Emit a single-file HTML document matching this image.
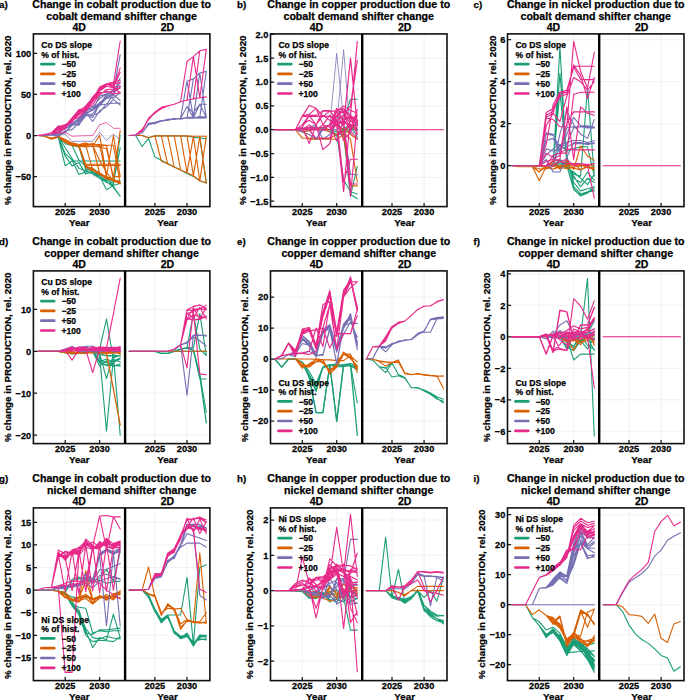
<!DOCTYPE html>
<html><head><meta charset="utf-8"><style>
html,body{margin:0;padding:0;background:#fff;}
svg{display:block;}
text{font-family:"Liberation Sans", sans-serif;font-weight:bold;fill:#000;stroke:#000;stroke-width:0.25px;}
</style></head><body>
<svg width="685" height="700" viewBox="0 0 685 700">
<rect width="685" height="700" fill="#fff"/>
<path d="M33.40 53.30H209.90 M33.40 94.40H209.90 M33.40 135.50H209.90 M33.40 176.60H209.90 M65.20 33.90V206.60 M154.90 33.90V206.60 M99.60 33.90V206.60 M187.00 33.90V206.60" stroke="#ededed" stroke-width="0.8" fill="none"/>
<path d="M37.7 135.5L44.6 136.3L51.4 138.8L58.3 137.1L65.2 165.9L72.1 161.0L79.0 161.0L85.8 161.0L92.7 161.0L99.6 161.0L106.5 161.0L113.4 161.0L120.2 161.0M37.7 135.5L44.6 136.3L51.4 138.8L58.3 137.1L65.2 153.6L72.1 160.2L79.0 174.5L85.8 171.7L92.7 172.5L99.6 176.2L106.5 189.8L113.4 185.6L120.2 183.2M37.7 135.5L44.6 136.3L51.4 138.8L58.3 137.1L65.2 156.1L72.1 165.9L79.0 162.6L85.8 174.1L92.7 171.7L99.6 175.0L106.5 178.2L113.4 186.5L120.2 196.3M37.7 135.5L44.6 136.3L51.4 138.8L58.3 137.1L65.2 147.8L72.1 158.5L79.0 168.4L85.8 170.8L92.7 174.1L99.6 176.6L106.5 181.5L113.4 187.3L120.2 196.3M37.7 135.5L44.6 136.3L51.4 138.8L58.3 137.1L65.2 143.7L72.1 145.4L79.0 147.0L85.8 170.0L92.7 174.1L99.6 178.2L106.5 182.4L113.4 184.8L120.2 135.5M37.7 135.5L44.6 136.3L51.4 138.8L58.3 137.1L65.2 143.7L72.1 145.4L79.0 146.2L85.8 168.4L92.7 171.7L99.6 176.6L106.5 179.9L113.4 183.2L120.2 147.8M37.7 135.5L44.6 136.3L51.4 138.8L58.3 137.1L65.2 143.7L72.1 145.4L79.0 160.2L85.8 166.7L92.7 168.4L99.6 173.3L106.5 178.2L113.4 181.5L120.2 180.7" stroke="#1b9e77" stroke-width="1.1" fill="none" stroke-linejoin="round" stroke-linecap="round"/>
<path d="M37.7 135.5L44.6 136.3L51.4 139.3L58.3 137.1L65.2 142.0L72.1 144.4L79.0 146.7L85.8 167.3L92.7 170.8L99.6 172.6L106.5 177.1L113.4 181.1L120.2 183.0M37.7 135.5L44.6 136.3L51.4 139.3L58.3 137.1L65.2 141.4L72.1 144.5L79.0 146.1L85.8 166.1L92.7 170.7L99.6 172.8L106.5 177.7L113.4 179.9L120.2 182.5M37.7 135.5L44.6 136.3L51.4 139.3L58.3 137.1L65.2 140.9L72.1 145.0L79.0 144.9L85.8 145.3L92.7 170.2L99.6 174.5L106.5 177.7L113.4 180.0L120.2 183.9M37.7 135.5L44.6 136.3L51.4 139.3L58.3 137.1L65.2 142.0L72.1 143.4L79.0 145.7L85.8 144.6L92.7 145.1L99.6 173.5L106.5 176.5L113.4 179.3L120.2 182.2M37.7 135.5L44.6 136.3L51.4 139.3L58.3 137.1L65.2 142.3L72.1 145.8L79.0 146.1L85.8 144.4L92.7 145.3L99.6 144.8L106.5 176.8L113.4 180.3L120.2 184.0M37.7 135.5L44.6 136.3L51.4 139.3L58.3 137.1L65.2 141.1L72.1 145.3L79.0 146.0L85.8 145.9L92.7 144.3L99.6 144.5L106.5 145.3L113.4 179.6L120.2 183.6M37.7 135.5L44.6 136.3L51.4 139.3L58.3 137.1L65.2 140.5L72.1 145.1L79.0 146.4L85.8 145.5L92.7 143.4L99.6 146.2L106.5 145.2L113.4 145.3L120.2 183.8M37.7 135.5L44.6 136.3L51.4 139.3L58.3 137.1L65.2 141.3L72.1 144.5L79.0 147.0L85.8 166.7L92.7 170.0L99.6 173.3L106.5 177.4L113.4 180.3L120.2 183.2M37.7 135.5L44.6 136.3L51.4 139.3L58.3 137.1L65.2 141.3L72.1 144.5L79.0 145.5L85.8 166.4L92.7 168.6L99.6 173.6L106.5 179.0L113.4 179.9L120.2 183.7M37.7 135.5L44.6 136.3L51.4 139.3L58.3 137.1L65.2 142.1L72.1 145.4L79.0 146.2L85.8 147.0L92.7 146.2L99.6 135.2L106.5 175.8L113.4 135.5L120.2 176.6M37.7 135.5L44.6 136.3L51.4 139.3L58.3 137.1L65.2 142.1L72.1 145.4L79.0 145.4L85.8 164.3L92.7 164.3L99.6 164.3L106.5 164.3L113.4 164.3L120.2 164.3M37.7 135.5L44.6 136.3L51.4 139.3L58.3 137.1L65.2 142.1L72.1 145.4L79.0 145.4L85.8 165.5L92.7 165.5L99.6 165.5L106.5 165.5L113.4 165.5L120.2 165.5M37.7 135.5L44.6 136.3L51.4 139.3L58.3 137.1L65.2 142.1L72.1 145.4L79.0 146.2L85.8 147.0L92.7 146.2L99.6 147.0L106.5 148.7L113.4 178.2L120.2 130.6M37.7 135.5L44.6 136.3L51.4 139.3L58.3 137.1L65.2 142.1L72.1 145.4L79.0 146.2L85.8 147.0L92.7 146.2L99.6 147.0L106.5 148.7L113.4 176.6L120.2 176.6M37.7 135.5L44.6 136.3L51.4 138.0L58.3 136.3L65.2 139.6L72.1 142.9L79.0 144.5L85.8 142.9L92.7 145.4L99.6 160.2L106.5 172.5L113.4 180.7L120.2 182.4" stroke="#d95f02" stroke-width="1.1" fill="none" stroke-linejoin="round" stroke-linecap="round"/>
<path d="M37.7 135.5L44.6 135.5L51.4 135.5L58.3 134.7L65.2 134.2L72.1 141.3L79.0 141.3L85.8 141.3L92.7 141.3L99.6 132.3L106.5 140.4L113.4 134.2L120.2 139.6" stroke="#7570b3" stroke-width="0.75" fill="none" stroke-linejoin="round" stroke-linecap="round"/>
<path d="M37.7 135.5L44.6 135.5L51.4 134.8L58.3 136.4L65.2 132.3L72.1 124.7L79.0 125.2L85.8 113.7L92.7 115.8L99.6 112.3L106.5 103.9L113.4 103.3L120.2 103.1M37.7 135.5L44.6 135.5L51.4 134.7L58.3 136.0L65.2 130.8L72.1 129.6L79.0 122.8L85.8 112.8L92.7 110.2L99.6 105.9L106.5 98.2L113.4 97.7L120.2 92.8M37.7 135.5L44.6 135.5L51.4 134.7L58.3 130.0L65.2 127.7L72.1 125.6L79.0 122.4L85.8 111.9L92.7 106.2L99.6 104.0L106.5 94.8L113.4 98.2L120.2 92.5M37.7 135.5L44.6 135.5L51.4 134.6L58.3 135.3L65.2 125.7L72.1 123.2L79.0 121.2L85.8 109.5L92.7 107.5L99.6 98.5L106.5 94.1L113.4 89.7L120.2 87.5M37.7 135.5L44.6 135.5L51.4 134.8L58.3 133.4L65.2 133.0L72.1 125.2L79.0 124.5L85.8 115.7L92.7 113.9L99.6 105.0L106.5 104.3L113.4 94.7L120.2 100.5M37.7 135.5L44.6 135.5L51.4 134.6L58.3 132.4L65.2 126.4L72.1 123.4L79.0 118.3L85.8 108.4L92.7 109.7L99.6 96.3L106.5 93.8L113.4 93.6L120.2 86.5M37.7 135.5L44.6 135.5L51.4 134.7L58.3 132.2L65.2 128.9L72.1 124.0L79.0 119.1L85.8 112.5L92.7 121.5L99.6 110.8L106.5 106.7L113.4 99.3L120.2 105.1M37.7 135.5L44.6 135.5L51.4 134.7L58.3 132.2L65.2 128.9L72.1 124.8L79.0 119.9L85.8 113.3L92.7 109.2L99.6 102.6L106.5 96.9L113.4 90.3L120.2 54.9M37.7 135.5L44.6 135.5L51.4 134.7L58.3 132.2L65.2 128.9L72.1 124.8L79.0 119.9L85.8 114.1L92.7 110.0L99.6 104.3L106.5 98.5L113.4 92.8L120.2 78.0M37.7 135.5L44.6 135.5L51.4 134.7L58.3 132.2L65.2 128.9L72.1 124.8L79.0 119.1L85.8 115.0L92.7 117.4L99.6 104.3L106.5 97.7L113.4 94.4L120.2 82.1" stroke="#7570b3" stroke-width="1.1" fill="none" stroke-linejoin="round" stroke-linecap="round"/>
<path d="M37.7 135.5L44.6 134.7L51.4 133.9L58.3 133.0L65.2 132.2L72.1 136.3L79.0 135.9L85.8 135.7L92.7 135.6L99.6 124.8L106.5 122.5L113.4 128.3L120.2 128.3" stroke="#e7298a" stroke-width="0.75" fill="none" stroke-linejoin="round" stroke-linecap="round"/>
<path d="M37.7 135.5L44.6 134.8L51.4 133.3L58.3 132.7L65.2 127.7L72.1 120.4L79.0 114.9L85.8 109.6L92.7 104.9L99.6 94.3L106.5 90.9L113.4 93.9L120.2 92.9M37.7 135.5L44.6 134.7L51.4 133.1L58.3 129.4L65.2 128.7L72.1 118.1L79.0 112.0L85.8 109.4L92.7 100.9L99.6 95.1L106.5 89.5L113.4 89.1L120.2 88.0M37.7 135.5L44.6 134.6L51.4 132.9L58.3 131.8L65.2 125.3L72.1 122.3L79.0 111.9L85.8 106.6L92.7 100.4L99.6 89.4L106.5 83.8L113.4 87.2L120.2 85.7M37.7 135.5L44.6 134.6L51.4 132.8L58.3 126.0L65.2 125.8L72.1 117.8L79.0 110.4L85.8 107.5L92.7 100.3L99.6 86.9L106.5 83.7L113.4 82.0L120.2 80.5M37.7 135.5L44.6 134.7L51.4 133.2L58.3 127.1L65.2 124.6L72.1 120.1L79.0 117.2L85.8 111.1L92.7 101.6L99.6 92.5L106.5 92.3L113.4 91.3L120.2 88.1M37.7 135.5L44.6 134.6L51.4 132.9L58.3 126.9L65.2 126.8L72.1 117.8L79.0 109.7L85.8 107.7L92.7 96.8L99.6 90.0L106.5 84.9L113.4 83.7L120.2 82.8M37.7 135.5L44.6 134.7L51.4 133.0L58.3 128.1L65.2 126.5L72.1 119.1L79.0 112.5L85.8 106.7L92.7 99.3L99.6 89.5L106.5 84.5L113.4 84.5L120.2 41.0M37.7 135.5L44.6 134.7L51.4 133.0L58.3 128.1L65.2 126.5L72.1 119.1L79.0 112.5L85.8 105.9L92.7 98.5L99.6 89.5L106.5 83.7L113.4 86.2L120.2 68.1M37.7 135.5L44.6 134.7L51.4 133.0L58.3 128.9L65.2 127.3L72.1 120.7L79.0 114.1L85.8 108.4L92.7 101.0L99.6 91.1L106.5 86.2L113.4 87.8L120.2 72.2M37.7 135.5L44.6 134.7L51.4 133.0L58.3 128.9L65.2 127.3L72.1 120.7L79.0 114.1L85.8 108.4L92.7 101.0L99.6 91.1L106.5 86.2L113.4 87.8L120.2 92.8M37.7 135.5L44.6 134.7L51.4 133.0L58.3 127.3L65.2 125.6L72.1 118.2L79.0 111.7L85.8 105.9L92.7 97.7L99.6 88.6L106.5 83.7L113.4 83.7L120.2 82.9" stroke="#e7298a" stroke-width="1.1" fill="none" stroke-linejoin="round" stroke-linecap="round"/>
<path d="M129.2 135.5L135.6 135.5L142.1 146.5L148.5 138.3L154.9 156.9L161.3 160.2L167.7 163.4L174.2 167.0L180.6 169.9L187.0 173.6L193.4 176.4L199.8 180.8L206.3 183.0M129.2 135.5L135.6 135.5L142.1 135.5L148.5 137.8L154.9 135.9L161.3 135.9L167.7 135.9L174.2 135.9L180.6 135.9L187.0 136.3L193.4 137.1L199.8 138.0L206.3 138.8M129.2 135.5L135.6 135.5L142.1 135.5L148.5 137.8L154.9 135.9L161.3 135.9L167.7 135.9L174.2 135.9L180.6 135.9L187.0 136.3L193.4 137.1L199.8 138.0L206.3 183.0" stroke="#1b9e77" stroke-width="1.1" fill="none" stroke-linejoin="round" stroke-linecap="round"/>
<path d="M129.2 135.5L135.6 135.5L142.1 135.5L148.5 137.8L154.9 135.9L161.3 135.9L167.7 135.9L174.2 135.9L180.6 135.9L187.0 135.9L193.4 136.3L199.8 136.3L206.3 136.3M129.2 135.5L135.6 135.5L142.1 135.5L148.5 137.8L154.9 135.9L161.3 161.0L167.7 164.1L174.2 167.0L180.6 169.9L187.0 172.8L193.4 175.7L199.8 180.8L206.3 183.0M129.2 135.5L135.6 135.5L142.1 135.5L148.5 137.8L154.9 135.9L161.3 135.9L167.7 164.1L174.2 167.0L180.6 169.9L187.0 172.8L193.4 175.7L199.8 180.8L206.3 183.0M129.2 135.5L135.6 135.5L142.1 135.5L148.5 137.8L154.9 135.9L161.3 135.9L167.7 135.9L174.2 167.0L180.6 169.9L187.0 172.8L193.4 175.7L199.8 180.8L206.3 183.0M129.2 135.5L135.6 135.5L142.1 135.5L148.5 137.8L154.9 135.9L161.3 135.9L167.7 135.9L174.2 135.9L180.6 169.9L187.0 172.8L193.4 175.7L199.8 180.8L206.3 183.0M129.2 135.5L135.6 135.5L142.1 135.5L148.5 137.8L154.9 135.9L161.3 135.9L167.7 135.9L174.2 135.9L180.6 135.9L187.0 172.8L193.4 175.7L199.8 180.8L206.3 183.0M129.2 135.5L135.6 135.5L142.1 135.5L148.5 137.8L154.9 135.9L161.3 135.9L167.7 135.9L174.2 135.9L180.6 135.9L187.0 135.9L193.4 175.7L199.8 180.8L206.3 183.0M129.2 135.5L135.6 135.5L142.1 135.5L148.5 137.8L154.9 135.9L161.3 135.9L167.7 135.9L174.2 135.9L180.6 135.9L187.0 135.9L193.4 136.3L199.8 180.8L206.3 183.0M129.2 135.5L135.6 135.5L142.1 135.5L148.5 137.8L154.9 135.9L161.3 135.9L167.7 135.9L174.2 135.9L180.6 135.9L187.0 135.9L193.4 136.3L199.8 136.3L206.3 183.0M129.2 135.5L135.6 135.5L142.1 135.5L148.5 137.8L154.9 135.9L161.3 135.9L167.7 135.9L174.2 135.9L180.6 135.9L187.0 172.8L193.4 136.3L199.8 180.8L206.3 136.3M129.2 135.5L135.6 135.5L142.1 135.5L148.5 137.8L154.9 135.9L161.3 135.9L167.7 135.9L174.2 135.9L180.6 135.9L187.0 135.9L193.4 175.7L199.8 136.3L206.3 183.0" stroke="#d95f02" stroke-width="1.1" fill="none" stroke-linejoin="round" stroke-linecap="round"/>
<path d="M129.2 135.5L135.6 135.5L142.1 133.0L148.5 123.4L154.9 122.3L161.3 120.5L167.7 120.4L174.2 118.6L180.6 118.5L187.0 117.6L193.4 118.1L199.8 117.3L206.3 116.5M129.2 135.5L135.6 135.5L142.1 133.0L148.5 123.7L154.9 122.9L161.3 121.2L167.7 119.3L174.2 119.4L180.6 118.5L187.0 117.8L193.4 118.1L199.8 116.5L206.3 117.2M129.2 135.5L135.6 135.5L142.1 133.0L148.5 124.0L154.9 123.8L161.3 121.0L167.7 119.3L174.2 118.7L180.6 118.9L187.0 117.5L193.4 117.1L199.8 118.3L206.3 116.8M129.2 135.5L135.6 135.5L142.1 133.0L148.5 124.6L154.9 123.5L161.3 121.3L167.7 120.3L174.2 118.3L180.6 119.2L187.0 117.7L193.4 117.4L199.8 118.3L206.3 118.0M129.2 135.5L135.6 135.5L142.1 133.0L148.5 124.0L154.9 123.2L161.3 120.7L167.7 119.9L174.2 119.1L180.6 118.2L187.0 81.2L193.4 78.8L199.8 73.0L206.3 71.4M129.2 135.5L135.6 135.5L142.1 133.0L148.5 124.0L154.9 123.2L161.3 120.7L167.7 119.9L174.2 119.1L180.6 118.2L187.0 118.2L193.4 78.8L199.8 73.0L206.3 71.4M129.2 135.5L135.6 135.5L142.1 133.0L148.5 124.0L154.9 123.2L161.3 120.7L167.7 119.9L174.2 119.1L180.6 118.2L187.0 118.2L193.4 117.8L199.8 73.0L206.3 71.4M129.2 135.5L135.6 135.5L142.1 133.0L148.5 124.0L154.9 123.2L161.3 120.7L167.7 119.9L174.2 119.1L180.6 118.2L187.0 118.2L193.4 117.8L199.8 117.4L206.3 71.4M129.2 135.5L135.6 135.5L142.1 133.0L148.5 124.0L154.9 123.2L161.3 120.7L167.7 119.9L174.2 119.1L180.6 118.2L187.0 106.7L193.4 112.5L199.8 104.3L206.3 104.3M129.2 135.5L135.6 135.5L142.1 133.0L148.5 124.0L154.9 123.2L161.3 120.7L167.7 119.9L174.2 119.1L180.6 118.2L187.0 118.2L193.4 117.8L199.8 104.3L206.3 104.3M129.2 135.5L135.6 135.5L142.1 133.0L148.5 124.0L154.9 123.2L161.3 120.7L167.7 119.9L174.2 119.1L180.6 118.2L187.0 81.2L193.4 117.4L199.8 73.0L206.3 117.4M129.2 135.5L135.6 135.5L142.1 133.0L148.5 124.0L154.9 123.2L161.3 120.7L167.7 119.9L174.2 119.1L180.6 118.2L187.0 106.7L193.4 117.4L199.8 104.3L206.3 117.4" stroke="#7570b3" stroke-width="1.1" fill="none" stroke-linejoin="round" stroke-linecap="round"/>
<path d="M129.2 135.5L135.6 134.7L142.1 131.2L148.5 119.0L154.9 112.3L161.3 108.2L167.7 105.9L174.2 104.3L180.6 101.8L187.0 100.2L193.4 98.9L199.8 97.7L206.3 96.9M129.2 135.5L135.6 134.7L142.1 130.6L148.5 118.5L154.9 112.2L161.3 107.4L167.7 105.9L174.2 104.3L180.6 101.8L187.0 100.2L193.4 98.9L199.8 97.7L206.3 96.9M129.2 135.5L135.6 134.7L142.1 129.5L148.5 119.6L154.9 112.8L161.3 108.7L167.7 105.9L174.2 104.3L180.6 101.8L187.0 100.2L193.4 98.9L199.8 97.7L206.3 96.9M129.2 135.5L135.6 134.7L142.1 130.6L148.5 118.2L154.9 113.3L161.3 108.4L167.7 105.9L174.2 104.3L180.6 101.8L187.0 61.5L193.4 56.6L199.8 50.8L206.3 49.4M129.2 135.5L135.6 134.7L142.1 130.6L148.5 118.2L154.9 113.3L161.3 108.4L167.7 105.9L174.2 104.3L180.6 101.8L187.0 100.2L193.4 56.6L199.8 50.8L206.3 49.4M129.2 135.5L135.6 134.7L142.1 130.6L148.5 118.2L154.9 113.3L161.3 108.4L167.7 105.9L174.2 104.3L180.6 101.8L187.0 100.2L193.4 98.9L199.8 50.8L206.3 49.4M129.2 135.5L135.6 134.7L142.1 130.6L148.5 118.2L154.9 113.3L161.3 108.4L167.7 105.9L174.2 104.3L180.6 101.8L187.0 100.2L193.4 98.9L199.8 97.7L206.3 49.4M129.2 135.5L135.6 134.7L142.1 130.6L148.5 118.2L154.9 113.3L161.3 108.4L167.7 105.9L174.2 104.3L180.6 101.8L187.0 100.2L193.4 56.6L199.8 97.7L206.3 49.4" stroke="#e7298a" stroke-width="1.1" fill="none" stroke-linejoin="round" stroke-linecap="round"/>
<path d="M33.40 53.30h3.6 M33.40 94.40h3.6 M33.40 135.50h3.6 M33.40 176.60h3.6 M65.20 206.60v-3.6 M154.90 206.60v-3.6 M99.60 206.60v-3.6 M187.00 206.60v-3.6" stroke="#1a1a1a" stroke-width="1.25" fill="none"/>
<rect x="33.40" y="33.90" width="176.50" height="172.70" fill="none" stroke="#111" stroke-width="1.6"/>
<line x1="125.10" y1="33.90" x2="125.10" y2="206.60" stroke="#000" stroke-width="2.4"/>
<text transform="translate(31.20 56.75) scale(1 1.05)" text-anchor="end" font-size="9.2">100</text>
<text transform="translate(31.20 97.85) scale(1 1.05)" text-anchor="end" font-size="9.2">50</text>
<text transform="translate(31.20 138.95) scale(1 1.05)" text-anchor="end" font-size="9.2">0</text>
<text transform="translate(31.20 180.05) scale(1 1.05)" text-anchor="end" font-size="9.2">−50</text>
<text transform="translate(65.20 215.00) scale(1 1.05)" text-anchor="middle" font-size="9.2">2025</text>
<text transform="translate(154.90 215.00) scale(1 1.05)" text-anchor="middle" font-size="9.2">2025</text>
<text transform="translate(99.60 215.00) scale(1 1.05)" text-anchor="middle" font-size="9.2">2030</text>
<text transform="translate(187.00 215.00) scale(1 1.05)" text-anchor="middle" font-size="9.2">2030</text>
<text transform="translate(79.25 226.10)" text-anchor="middle" font-size="9.8">Year</text>
<text transform="translate(167.50 226.10)" text-anchor="middle" font-size="9.8">Year</text>
<text transform="translate(11.19 120.25) rotate(-90)" text-anchor="middle" font-size="9.75">% change in PRODUCTION, rel. 2020</text>
<text x="79.25" y="30.90" text-anchor="middle" font-size="10.5">4D</text>
<text x="167.50" y="30.90" text-anchor="middle" font-size="10.5">2D</text>
<text x="121.65" y="7.60" text-anchor="middle" font-size="10.64">Change in cobalt production due to</text>
<text x="121.65" y="19.60" text-anchor="middle" font-size="10.64">cobalt demand shifter change</text>
<text x="-1.00" y="7.60" font-size="9.8">a)</text>
<text x="41.30" y="48.40" font-size="8.6">Co DS slope</text>
<text x="41.30" y="57.50" font-size="8.6">% of hist.</text>
<line x1="41.30" y1="64.10" x2="54.20" y2="64.10" stroke="#1b9e77" stroke-width="2.7" stroke-linecap="round"/>
<text x="61.40" y="67.20" font-size="8.6">−50</text>
<line x1="41.30" y1="73.90" x2="54.20" y2="73.90" stroke="#d95f02" stroke-width="2.7" stroke-linecap="round"/>
<text x="61.40" y="77.00" font-size="8.6">−25</text>
<line x1="41.30" y1="83.70" x2="54.20" y2="83.70" stroke="#7570b3" stroke-width="2.7" stroke-linecap="round"/>
<text x="61.40" y="86.80" font-size="8.6">+50</text>
<line x1="41.30" y1="93.50" x2="54.20" y2="93.50" stroke="#e7298a" stroke-width="2.7" stroke-linecap="round"/>
<text x="61.40" y="96.60" font-size="8.6">+100</text>
<path d="M270.50 34.38H447.00 M270.50 58.21H447.00 M270.50 82.04H447.00 M270.50 105.87H447.00 M270.50 129.70H447.00 M270.50 153.53H447.00 M270.50 177.36H447.00 M270.50 201.19H447.00 M302.30 33.90V206.60 M392.00 33.90V206.60 M336.70 33.90V206.60 M424.10 33.90V206.60" stroke="#ededed" stroke-width="0.8" fill="none"/>
<path d="M274.8 129.7L281.7 129.7L288.5 129.7L295.4 129.7L302.3 128.3L309.2 127.8L316.1 128.3L322.9 128.7L329.8 129.7L336.7 121.3L343.6 132.7L350.5 130.9L357.3 121.0M274.8 129.7L281.7 129.7L288.5 129.7L295.4 129.7L302.3 128.3L309.2 127.8L316.1 128.3L322.9 128.7L329.8 129.7L336.7 135.6L343.6 128.4L350.5 125.2L357.3 137.2M274.8 129.7L281.7 129.7L288.5 129.7L295.4 129.7L302.3 128.3L309.2 127.8L316.1 128.3L322.9 128.7L329.8 129.7L336.7 131.6L343.6 132.9L350.5 125.2L357.3 130.4M274.8 129.7L281.7 129.7L288.5 129.7L295.4 129.7L302.3 128.3L309.2 127.8L316.1 128.3L322.9 128.7L329.8 129.7L336.7 136.1L343.6 128.4L350.5 130.7L357.3 128.2M274.8 129.7L281.7 129.7L288.5 129.7L295.4 129.7L302.3 129.7L309.2 127.3L316.1 127.3L322.9 129.7L329.8 129.7L336.7 134.5L343.6 129.7L350.5 194.5L357.3 198.8M274.8 129.7L281.7 129.7L288.5 129.7L295.4 129.7L302.3 129.7L309.2 127.3L316.1 127.3L322.9 129.7L329.8 129.7L336.7 134.5L343.6 134.5L350.5 195.9L357.3 166.4M274.8 129.7L281.7 129.7L288.5 129.7L295.4 129.7L302.3 129.7L309.2 127.3L316.1 127.3L322.9 129.7L329.8 129.7L336.7 134.5L343.6 179.7L350.5 191.7L357.3 194.0M274.8 129.7L281.7 129.7L288.5 129.7L295.4 129.7L302.3 129.7L309.2 127.3L316.1 127.3L322.9 129.7L329.8 129.7L336.7 124.9L343.6 120.2L350.5 99.2L357.3 99.2" stroke="#1b9e77" stroke-width="1.1" fill="none" stroke-linejoin="round" stroke-linecap="round"/>
<path d="M274.8 129.7L281.7 129.7L288.5 129.7L295.4 129.7L302.3 138.3L309.2 138.3L316.1 138.3L322.9 138.3L329.8 138.3L336.7 134.5L343.6 127.3L350.5 134.5L357.3 139.2M274.8 129.7L281.7 129.7L288.5 129.7L295.4 129.7L302.3 132.1L309.2 130.7L316.1 128.7L322.9 129.7L329.8 132.1L336.7 134.5L343.6 132.1L350.5 139.2L357.3 182.1M274.8 129.7L281.7 129.7L288.5 129.7L295.4 129.7L302.3 129.7L309.2 139.2L316.1 139.2L322.9 139.2L329.8 139.2L336.7 139.2L343.6 134.5L350.5 185.9L357.3 185.9M274.8 129.7L281.7 129.7L288.5 129.7L295.4 129.7L302.3 129.7L309.2 129.7L316.1 128.7L322.9 127.3L329.8 129.7L336.7 124.9L343.6 132.1L350.5 124.9L357.3 132.1" stroke="#d95f02" stroke-width="1.1" fill="none" stroke-linejoin="round" stroke-linecap="round"/>
<path d="M274.8 129.7L281.7 129.7L288.5 129.7L295.4 129.7L302.3 129.7L309.2 129.7L316.1 129.7L322.9 129.7L329.8 124.9L336.7 53.4L343.6 120.2L350.5 129.7L357.3 129.7M274.8 129.7L281.7 129.7L288.5 129.7L295.4 129.7L302.3 129.7L309.2 129.7L316.1 129.7L322.9 129.7L329.8 129.7L336.7 124.9L343.6 49.6L350.5 134.5L357.3 129.7" stroke="#7570b3" stroke-width="0.75" fill="none" stroke-linejoin="round" stroke-linecap="round"/>
<path d="M274.8 129.7L281.7 129.7L288.5 129.7L295.4 129.7L302.3 132.1L309.2 134.5L316.1 139.2L322.9 127.3L329.8 124.9L336.7 120.2L343.6 122.6L350.5 124.9L357.3 124.9M274.8 129.7L281.7 129.7L288.5 129.7L295.4 129.7L302.3 129.7L309.2 129.7L316.1 139.2L322.9 129.7L329.8 129.7L336.7 129.7L343.6 124.9L350.5 174.5L357.3 174.5M274.8 129.7L281.7 129.7L288.5 129.7L295.4 129.7L302.3 129.7L309.2 127.3L316.1 124.9L322.9 139.2L329.8 134.5L336.7 115.4L343.6 120.2L350.5 117.8L357.3 120.2" stroke="#7570b3" stroke-width="1.1" fill="none" stroke-linejoin="round" stroke-linecap="round"/>
<path d="M274.8 129.7L281.7 129.7L288.5 129.7L295.4 129.7L302.3 116.4L309.2 105.4L316.1 108.3L322.9 124.9L329.8 127.3L336.7 115.4L343.6 108.3L350.5 115.4L357.3 124.9M274.8 129.7L281.7 129.7L288.5 129.7L295.4 129.7L302.3 116.4L309.2 116.4L316.1 116.4L322.9 116.4L329.8 116.4L336.7 116.4L343.6 110.6L350.5 115.4L357.3 120.2M274.8 129.7L281.7 129.7L288.5 129.7L295.4 129.7L302.3 115.9L309.2 114.4L316.1 108.3L322.9 116.4L329.8 111.1L336.7 111.1L343.6 108.3L350.5 120.2L357.3 115.4M274.8 129.7L281.7 129.7L288.5 129.7L295.4 129.7L302.3 127.3L309.2 115.4L316.1 124.9L322.9 111.1L329.8 111.1L336.7 111.1L343.6 105.9L350.5 110.6L357.3 113.0M274.8 129.7L281.7 129.7L288.5 129.7L295.4 129.7L302.3 127.3L309.2 143.5L316.1 124.9L322.9 149.7L329.8 143.5L336.7 115.4L343.6 124.9L350.5 115.4L357.3 134.5M274.8 129.7L281.7 129.7L288.5 129.7L295.4 129.7L302.3 128.7L309.2 129.7L316.1 138.3L322.9 138.3L329.8 138.3L336.7 120.2L343.6 134.5L350.5 120.2L357.3 129.7M274.8 129.7L281.7 129.7L288.5 129.7L295.4 129.7L302.3 124.9L309.2 115.4L316.1 115.4L322.9 110.6L329.8 110.6L336.7 120.2L343.6 182.1L350.5 159.2L357.3 159.2M274.8 129.7L281.7 129.7L288.5 129.7L295.4 129.7L302.3 124.9L309.2 120.2L316.1 124.9L322.9 115.4L329.8 120.2L336.7 124.9L343.6 120.2L350.5 184.0L357.3 184.0M274.8 129.7L281.7 129.7L288.5 129.7L295.4 129.7L302.3 129.7L309.2 124.9L316.1 129.7L322.9 124.9L329.8 115.4L336.7 124.9L343.6 191.7L350.5 115.4L357.3 124.9M274.8 129.7L281.7 129.7L288.5 129.7L295.4 129.7L302.3 129.7L309.2 127.3L316.1 129.7L322.9 129.7L329.8 124.9L336.7 108.3L343.6 120.2L350.5 196.4L357.3 120.2M274.8 129.7L281.7 129.7L288.5 129.7L295.4 129.7L302.3 129.7L309.2 128.7L316.1 128.7L322.9 127.3L329.8 124.9L336.7 141.1L343.6 120.2L350.5 129.0L357.3 109.5M274.8 129.7L281.7 129.7L288.5 129.7L295.4 129.7L302.3 129.7L309.2 128.7L316.1 128.7L322.9 127.3L329.8 124.9L336.7 110.7L343.6 112.6L350.5 131.3L357.3 138.8M274.8 129.7L281.7 129.7L288.5 129.7L295.4 129.7L302.3 129.7L309.2 128.7L316.1 128.7L322.9 127.3L329.8 124.9L336.7 120.4L343.6 140.7L350.5 131.8L357.3 115.6M274.8 129.7L281.7 129.7L288.5 129.7L295.4 129.7L302.3 129.7L309.2 128.7L316.1 128.7L322.9 127.3L329.8 124.9L336.7 112.0L343.6 121.1L350.5 126.9L357.3 115.8M274.8 129.7L281.7 129.7L288.5 129.7L295.4 129.7L302.3 129.7L309.2 128.7L316.1 128.7L322.9 127.3L329.8 124.9L336.7 115.4L343.6 111.3L350.5 124.5L357.3 125.9" stroke="#e7298a" stroke-width="1.1" fill="none" stroke-linejoin="round" stroke-linecap="round"/>
<path d="M274.8 129.7L281.7 129.7L288.5 129.7L295.4 129.7L302.3 129.7L309.2 129.7L316.1 129.7L322.9 129.7L329.8 129.7L336.7 120.2L343.6 124.9L350.5 58.2L357.3 124.9M274.8 129.7L281.7 129.7L288.5 129.7L295.4 129.7L302.3 129.7L309.2 129.7L316.1 129.7L322.9 129.7L329.8 129.7L336.7 124.9L343.6 120.2L350.5 115.4L357.3 41.5M274.8 129.7L281.7 129.7L288.5 129.7L295.4 129.7L302.3 129.7L309.2 129.7L316.1 129.7L322.9 129.7L329.8 129.7L336.7 120.2L343.6 115.4L350.5 105.9L357.3 60.6" stroke="#e7298a" stroke-width="1.2" fill="none" stroke-linejoin="round" stroke-linecap="round"/>
<path d="M366.3 129.7L372.7 129.7L379.2 129.7L385.6 129.7L392.0 129.7L398.4 129.7L404.8 129.7L411.3 129.7L417.7 129.7L424.1 129.7L430.5 129.7L436.9 129.7L443.4 129.7" stroke="#e7298a" stroke-width="1.1" fill="none" stroke-linejoin="round" stroke-linecap="round"/>
<path d="M270.50 34.38h3.6 M270.50 58.21h3.6 M270.50 82.04h3.6 M270.50 105.87h3.6 M270.50 129.70h3.6 M270.50 153.53h3.6 M270.50 177.36h3.6 M270.50 201.19h3.6 M302.30 206.60v-3.6 M392.00 206.60v-3.6 M336.70 206.60v-3.6 M424.10 206.60v-3.6" stroke="#1a1a1a" stroke-width="1.25" fill="none"/>
<rect x="270.50" y="33.90" width="176.50" height="172.70" fill="none" stroke="#111" stroke-width="1.6"/>
<line x1="362.20" y1="33.90" x2="362.20" y2="206.60" stroke="#000" stroke-width="2.4"/>
<text transform="translate(268.30 37.83) scale(1 1.05)" text-anchor="end" font-size="9.2">2.0</text>
<text transform="translate(268.30 61.66) scale(1 1.05)" text-anchor="end" font-size="9.2">1.5</text>
<text transform="translate(268.30 85.49) scale(1 1.05)" text-anchor="end" font-size="9.2">1.0</text>
<text transform="translate(268.30 109.32) scale(1 1.05)" text-anchor="end" font-size="9.2">0.5</text>
<text transform="translate(268.30 133.15) scale(1 1.05)" text-anchor="end" font-size="9.2">0.0</text>
<text transform="translate(268.30 156.98) scale(1 1.05)" text-anchor="end" font-size="9.2">−0.5</text>
<text transform="translate(268.30 180.81) scale(1 1.05)" text-anchor="end" font-size="9.2">−1.0</text>
<text transform="translate(268.30 204.64) scale(1 1.05)" text-anchor="end" font-size="9.2">−1.5</text>
<text transform="translate(302.30 215.00) scale(1 1.05)" text-anchor="middle" font-size="9.2">2025</text>
<text transform="translate(392.00 215.00) scale(1 1.05)" text-anchor="middle" font-size="9.2">2025</text>
<text transform="translate(336.70 215.00) scale(1 1.05)" text-anchor="middle" font-size="9.2">2030</text>
<text transform="translate(424.10 215.00) scale(1 1.05)" text-anchor="middle" font-size="9.2">2030</text>
<text transform="translate(316.35 226.10)" text-anchor="middle" font-size="9.8">Year</text>
<text transform="translate(404.60 226.10)" text-anchor="middle" font-size="9.8">Year</text>
<text transform="translate(245.74 120.25) rotate(-90)" text-anchor="middle" font-size="9.75">% change in PRODUCTION, rel. 2020</text>
<text x="316.35" y="30.90" text-anchor="middle" font-size="10.5">4D</text>
<text x="404.60" y="30.90" text-anchor="middle" font-size="10.5">2D</text>
<text x="358.75" y="7.60" text-anchor="middle" font-size="10.64">Change in copper production due to</text>
<text x="358.75" y="19.60" text-anchor="middle" font-size="10.64">cobalt demand shifter change</text>
<text x="237.00" y="7.60" font-size="9.8">b)</text>
<text x="278.40" y="48.40" font-size="8.6">Co DS slope</text>
<text x="278.40" y="57.50" font-size="8.6">% of hist.</text>
<line x1="278.40" y1="64.10" x2="291.30" y2="64.10" stroke="#1b9e77" stroke-width="2.7" stroke-linecap="round"/>
<text x="298.50" y="67.20" font-size="8.6">−50</text>
<line x1="278.40" y1="73.90" x2="291.30" y2="73.90" stroke="#d95f02" stroke-width="2.7" stroke-linecap="round"/>
<text x="298.50" y="77.00" font-size="8.6">−25</text>
<line x1="278.40" y1="83.70" x2="291.30" y2="83.70" stroke="#7570b3" stroke-width="2.7" stroke-linecap="round"/>
<text x="298.50" y="86.80" font-size="8.6">+50</text>
<line x1="278.40" y1="93.50" x2="291.30" y2="93.50" stroke="#e7298a" stroke-width="2.7" stroke-linecap="round"/>
<text x="298.50" y="96.60" font-size="8.6">+100</text>
<path d="M507.50 39.70H684.00 M507.50 81.70H684.00 M507.50 123.70H684.00 M507.50 165.70H684.00 M539.30 33.90V206.60 M629.00 33.90V206.60 M573.70 33.90V206.60 M661.10 33.90V206.60" stroke="#ededed" stroke-width="0.8" fill="none"/>
<path d="M511.8 165.7L518.7 165.7L525.5 165.7L532.4 165.7L539.3 165.7L546.2 165.7L553.1 165.7L559.9 47.0L566.8 165.7L573.7 188.8L580.6 196.1L587.5 193.0L594.3 188.8M511.8 165.7L518.7 165.7L525.5 165.7L532.4 165.7L539.3 165.7L546.2 165.7L553.1 165.7L559.9 73.3L566.8 155.2L573.7 186.7L580.6 194.0L587.5 191.9L594.3 190.9M511.8 165.7L518.7 165.7L525.5 165.7L532.4 165.7L539.3 165.7L546.2 165.7L553.1 163.6L559.9 92.2L566.8 161.5L573.7 182.5L580.6 190.9L587.5 188.8L594.3 186.7M511.8 165.7L518.7 165.7L525.5 165.7L532.4 165.7L539.3 165.7L546.2 165.7L553.1 165.7L559.9 159.4L566.8 165.7L573.7 189.6L580.6 195.5L587.5 192.4L594.3 186.5M511.8 165.7L518.7 165.7L525.5 165.7L532.4 165.7L539.3 165.7L546.2 165.7L553.1 165.7L559.9 161.5L566.8 163.6L573.7 178.3L580.6 182.5L587.5 172.0L594.3 180.4M511.8 165.7L518.7 165.7L525.5 165.7L532.4 165.7L539.3 165.7L546.2 165.7L553.1 165.7L559.9 163.6L566.8 165.7L573.7 174.1L580.6 176.2L587.5 88.0L594.3 176.2M511.8 165.7L518.7 165.7L525.5 165.7L532.4 165.7L539.3 165.7L546.2 165.7L553.1 164.6L559.9 165.7L566.8 167.8L573.7 172.0L580.6 178.3L587.5 184.6L594.3 174.1M511.8 165.7L518.7 165.7L525.5 165.7L532.4 165.7L539.3 165.7L546.2 165.7L553.1 165.7L559.9 161.5L566.8 165.7L573.7 176.2L580.6 186.7L587.5 178.3L594.3 182.5M511.8 165.7L518.7 165.7L525.5 165.7L532.4 165.7L539.3 165.7L546.2 165.7L553.1 165.7L559.9 144.7L566.8 151.0L573.7 148.9L580.6 146.8L587.5 146.8L594.3 176.2" stroke="#1b9e77" stroke-width="1.1" fill="none" stroke-linejoin="round" stroke-linecap="round"/>
<path d="M511.8 165.7L518.7 166.8L525.5 166.8L532.4 166.8L539.3 180.8L546.2 166.8L553.1 160.4L559.9 169.3L566.8 160.4L573.7 169.3L580.6 146.0L587.5 156.0L594.3 160.4M511.8 165.7L518.7 166.8L525.5 166.8L532.4 166.8L539.3 172.0L546.2 165.7L553.1 163.6L559.9 167.8L566.8 164.6L573.7 163.6L580.6 169.9L587.5 166.8L594.3 167.8M511.8 165.7L518.7 166.8L525.5 166.8L532.4 166.8L539.3 169.1L546.2 168.9L553.1 166.4L559.9 165.7L566.8 166.8L573.7 168.3L580.6 169.9L587.5 165.7L594.3 169.5M511.8 165.7L518.7 166.8L525.5 166.8L532.4 166.8L539.3 166.1L546.2 167.4L553.1 169.3L559.9 167.1L566.8 168.7L573.7 167.2L580.6 164.9L587.5 167.2L594.3 169.7M511.8 165.7L518.7 166.8L525.5 166.8L532.4 166.8L539.3 166.0L546.2 165.9L553.1 169.2L559.9 165.4L566.8 165.7L573.7 165.7L580.6 166.3L587.5 165.0L594.3 165.8" stroke="#d95f02" stroke-width="1.1" fill="none" stroke-linejoin="round" stroke-linecap="round"/>
<path d="M511.8 165.7L518.7 165.7L525.5 165.7L532.4 165.7L539.3 165.7L546.2 132.9L553.1 134.2L559.9 151.0L566.8 127.9L573.7 126.8L580.6 126.8L587.5 126.8L594.3 126.8M511.8 165.7L518.7 165.7L525.5 165.7L532.4 165.7L539.3 165.7L546.2 134.2L553.1 135.2L559.9 146.8L566.8 144.7L573.7 127.9L580.6 126.8L587.5 127.9L594.3 127.9M511.8 165.7L518.7 165.7L525.5 165.7L532.4 165.7L539.3 165.7L546.2 148.9L553.1 151.0L559.9 148.9L566.8 146.8L573.7 143.6L580.6 143.6L587.5 143.6L594.3 143.6M511.8 165.7L518.7 165.7L525.5 165.7L532.4 165.7L539.3 165.7L546.2 159.4L553.1 172.0L559.9 172.0L566.8 157.3L573.7 142.6L580.6 142.6L587.5 144.7L594.3 142.6M511.8 165.7L518.7 165.7L525.5 165.7L532.4 165.7L539.3 165.7L546.2 165.7L553.1 165.7L559.9 134.2L566.8 111.1L573.7 124.8L580.6 134.2L587.5 138.4L594.3 119.5M511.8 165.7L518.7 165.7L525.5 165.7L532.4 165.7L539.3 165.7L546.2 140.5L553.1 138.4L559.9 153.1L566.8 134.2L573.7 117.4L580.6 125.8L587.5 125.8L594.3 127.9M511.8 165.7L518.7 165.7L525.5 165.7L532.4 165.7L539.3 165.7L546.2 155.2L553.1 148.9L559.9 144.7L566.8 142.6L573.7 140.5L580.6 140.5L587.5 142.6L594.3 140.5" stroke="#7570b3" stroke-width="1.1" fill="none" stroke-linejoin="round" stroke-linecap="round"/>
<path d="M511.8 165.7L518.7 165.7L525.5 165.7L532.4 165.7L539.3 165.7L546.2 112.6L553.1 108.6L559.9 94.3L566.8 92.2L573.7 66.2L580.6 66.2L587.5 66.2L594.3 66.2M511.8 165.7L518.7 165.7L525.5 165.7L532.4 165.7L539.3 165.7L546.2 118.0L553.1 119.5L559.9 126.8L566.8 126.8L573.7 41.4L580.6 71.2L587.5 88.0L594.3 52.3M511.8 165.7L518.7 165.7L525.5 165.7L532.4 165.7L539.3 165.7L546.2 144.7L553.1 104.8L559.9 92.2L566.8 90.1L573.7 67.0L580.6 79.6L587.5 79.6L594.3 79.6M511.8 165.7L518.7 165.7L525.5 165.7L532.4 165.7L539.3 165.7L546.2 165.7L553.1 155.2L559.9 153.1L566.8 153.1L573.7 94.3L580.6 92.2L587.5 92.2L594.3 92.2M511.8 165.7L518.7 165.7L525.5 165.7L532.4 165.7L539.3 165.7L546.2 165.7L553.1 155.2L559.9 153.1L566.8 148.9L573.7 149.9L580.6 149.9L587.5 149.9L594.3 149.9M511.8 165.7L518.7 165.7L525.5 165.7L532.4 165.7L539.3 165.7L546.2 161.5L553.1 159.4L559.9 155.2L566.8 123.7L573.7 111.9L580.6 111.9L587.5 111.9L594.3 111.9M511.8 165.7L518.7 165.7L525.5 165.7L532.4 165.7L539.3 165.7L546.2 125.8L553.1 113.2L559.9 121.6L566.8 96.4L573.7 77.5L580.6 81.7L587.5 90.1L594.3 81.7M511.8 165.7L518.7 165.7L525.5 165.7L532.4 165.7L539.3 165.7L546.2 165.7L553.1 165.7L559.9 161.5L566.8 159.4L573.7 165.7L580.6 163.6L587.5 165.7L594.3 198.2M511.8 165.7L518.7 165.7L525.5 165.7L532.4 165.7L539.3 165.7L546.2 115.3L553.1 111.1L559.9 96.4L566.8 94.3L573.7 64.9L580.6 75.4L587.5 98.5L594.3 77.5M511.8 165.7L518.7 165.7L525.5 165.7L532.4 165.7L539.3 165.7L546.2 165.7L553.1 161.5L559.9 159.4L566.8 106.9L573.7 159.4L580.6 106.9L587.5 113.2L594.3 115.3M511.8 165.7L518.7 165.7L525.5 165.7L532.4 165.7L539.3 165.7L546.2 153.1L553.1 157.3L559.9 161.5L566.8 163.6L573.7 163.6L580.6 163.6L587.5 164.6L594.3 163.6M511.8 165.7L518.7 165.7L525.5 165.7L532.4 165.7L539.3 165.7L546.2 117.4L553.1 113.2L559.9 92.2L566.8 92.2L573.7 67.0L580.6 79.6L587.5 79.6L594.3 79.6" stroke="#e7298a" stroke-width="1.1" fill="none" stroke-linejoin="round" stroke-linecap="round"/>
<path d="M603.3 165.7L609.7 165.7L616.2 165.7L622.6 165.7L629.0 165.7L635.4 165.7L641.8 165.7L648.3 165.7L654.7 165.7L661.1 165.7L667.5 165.7L673.9 165.7L680.4 165.7" stroke="#e7298a" stroke-width="1.1" fill="none" stroke-linejoin="round" stroke-linecap="round"/>
<path d="M507.50 39.70h3.6 M507.50 81.70h3.6 M507.50 123.70h3.6 M507.50 165.70h3.6 M539.30 206.60v-3.6 M629.00 206.60v-3.6 M573.70 206.60v-3.6 M661.10 206.60v-3.6" stroke="#1a1a1a" stroke-width="1.25" fill="none"/>
<rect x="507.50" y="33.90" width="176.50" height="172.70" fill="none" stroke="#111" stroke-width="1.6"/>
<line x1="599.20" y1="33.90" x2="599.20" y2="206.60" stroke="#000" stroke-width="2.4"/>
<text transform="translate(505.30 43.15) scale(1 1.05)" text-anchor="end" font-size="9.2">6</text>
<text transform="translate(505.30 85.15) scale(1 1.05)" text-anchor="end" font-size="9.2">4</text>
<text transform="translate(505.30 127.15) scale(1 1.05)" text-anchor="end" font-size="9.2">2</text>
<text transform="translate(505.30 169.15) scale(1 1.05)" text-anchor="end" font-size="9.2">0</text>
<text transform="translate(539.30 215.00) scale(1 1.05)" text-anchor="middle" font-size="9.2">2025</text>
<text transform="translate(629.00 215.00) scale(1 1.05)" text-anchor="middle" font-size="9.2">2025</text>
<text transform="translate(573.70 215.00) scale(1 1.05)" text-anchor="middle" font-size="9.2">2030</text>
<text transform="translate(661.10 215.00) scale(1 1.05)" text-anchor="middle" font-size="9.2">2030</text>
<text transform="translate(553.35 226.10)" text-anchor="middle" font-size="9.8">Year</text>
<text transform="translate(641.60 226.10)" text-anchor="middle" font-size="9.8">Year</text>
<text transform="translate(495.78 120.25) rotate(-90)" text-anchor="middle" font-size="9.75">% change in PRODUCTION, rel. 2020</text>
<text x="553.35" y="30.90" text-anchor="middle" font-size="10.5">4D</text>
<text x="641.60" y="30.90" text-anchor="middle" font-size="10.5">2D</text>
<text x="595.75" y="7.60" text-anchor="middle" font-size="10.64">Change in nickel production due to</text>
<text x="595.75" y="19.60" text-anchor="middle" font-size="10.64">cobalt demand shifter change</text>
<text x="473.50" y="7.60" font-size="9.8">c)</text>
<text x="515.40" y="48.40" font-size="8.6">Co DS slope</text>
<text x="515.40" y="57.50" font-size="8.6">% of hist.</text>
<line x1="515.40" y1="64.10" x2="528.30" y2="64.10" stroke="#1b9e77" stroke-width="2.7" stroke-linecap="round"/>
<text x="535.50" y="67.20" font-size="8.6">−50</text>
<line x1="515.40" y1="73.90" x2="528.30" y2="73.90" stroke="#d95f02" stroke-width="2.7" stroke-linecap="round"/>
<text x="535.50" y="77.00" font-size="8.6">−25</text>
<line x1="515.40" y1="83.70" x2="528.30" y2="83.70" stroke="#7570b3" stroke-width="2.7" stroke-linecap="round"/>
<text x="535.50" y="86.80" font-size="8.6">+50</text>
<line x1="515.40" y1="93.50" x2="528.30" y2="93.50" stroke="#e7298a" stroke-width="2.7" stroke-linecap="round"/>
<text x="535.50" y="96.60" font-size="8.6">+100</text>
<path d="M33.40 309.40H209.90 M33.40 351.30H209.90 M33.40 393.20H209.90 M33.40 435.10H209.90 M65.20 270.90V443.60 M154.90 270.90V443.60 M99.60 270.90V443.60 M187.00 270.90V443.60" stroke="#ededed" stroke-width="0.8" fill="none"/>
<path d="M37.7 351.3L44.6 351.3L51.4 351.3L58.3 351.3L65.2 352.6L72.1 353.8L79.0 353.4L85.8 352.6L92.7 351.3L99.6 365.9L106.5 360.8L113.4 366.4L120.2 363.8M37.7 351.3L44.6 351.3L51.4 351.3L58.3 351.3L65.2 352.6L72.1 353.8L79.0 353.4L85.8 352.6L92.7 351.3L99.6 359.0L106.5 362.9L113.4 360.7L120.2 358.1M37.7 351.3L44.6 351.3L51.4 351.3L58.3 351.3L65.2 352.6L72.1 353.8L79.0 353.4L85.8 352.6L92.7 351.3L99.6 361.8L106.5 365.2L113.4 362.4L120.2 358.8M37.7 351.3L44.6 351.3L51.4 351.3L58.3 351.3L65.2 352.6L72.1 353.8L79.0 353.4L85.8 352.6L92.7 351.3L99.6 361.6L106.5 359.0L113.4 362.0L120.2 358.0M37.7 351.3L44.6 351.3L51.4 351.3L58.3 351.3L65.2 352.6L72.1 353.8L79.0 353.4L85.8 352.6L92.7 351.3L99.6 349.2L106.5 319.0L113.4 359.7L120.2 361.8M37.7 351.3L44.6 351.3L51.4 351.3L58.3 351.3L65.2 352.1L72.1 353.4L79.0 353.0L85.8 352.1L92.7 351.3L99.6 355.5L106.5 430.9L113.4 357.6L120.2 355.5M37.7 351.3L44.6 351.3L51.4 351.3L58.3 351.3L65.2 352.1L72.1 353.4L79.0 353.0L85.8 352.1L92.7 351.3L99.6 354.7L106.5 355.5L113.4 355.5L120.2 435.1M37.7 351.3L44.6 351.3L51.4 351.3L58.3 351.3L65.2 352.1L72.1 353.4L79.0 353.0L85.8 352.1L92.7 351.3L99.6 353.4L106.5 378.5L113.4 354.7L120.2 356.3M37.7 351.3L44.6 351.3L51.4 351.3L58.3 351.3L65.2 352.1L72.1 353.4L79.0 353.0L85.8 352.1L92.7 351.3L99.6 352.6L106.5 355.9L113.4 355.9L120.2 355.9" stroke="#1b9e77" stroke-width="1.1" fill="none" stroke-linejoin="round" stroke-linecap="round"/>
<path d="M37.7 351.3L44.6 351.3L51.4 351.3L58.3 351.3L65.2 352.6L72.1 353.8L79.0 353.4L85.8 352.6L92.7 351.3L99.6 362.2L106.5 365.5L113.4 365.1L120.2 366.0" stroke="#1b9e77" stroke-width="1.3" fill="none" stroke-linejoin="round" stroke-linecap="round"/>
<path d="M37.7 351.3L44.6 351.3L51.4 351.3L58.3 351.3L65.2 352.5L72.1 352.9L79.0 352.3L85.8 352.7L92.7 353.2L99.6 351.7L106.5 350.7L113.4 352.5L120.2 353.1M37.7 351.3L44.6 351.3L51.4 351.3L58.3 351.3L65.2 351.8L72.1 351.7L79.0 352.1L85.8 353.8L92.7 350.6L99.6 353.8L106.5 350.6L113.4 352.0L120.2 351.8M37.7 351.3L44.6 351.3L51.4 351.3L58.3 351.3L65.2 351.1L72.1 352.6L79.0 352.3L85.8 353.2L92.7 350.8L99.6 352.1L106.5 352.9L113.4 351.1L120.2 354.2M37.7 351.3L44.6 351.3L51.4 351.3L58.3 351.3L65.2 351.6L72.1 352.5L79.0 351.7L85.8 351.7L92.7 350.9L99.6 352.9L106.5 352.3L113.4 353.3L120.2 352.7M37.7 351.3L44.6 351.3L51.4 351.3L58.3 351.3L65.2 351.6L72.1 351.6L79.0 352.4L85.8 353.7L92.7 351.5L99.6 350.7L106.5 353.5L113.4 352.9L120.2 352.0" stroke="#d95f02" stroke-width="1.1" fill="none" stroke-linejoin="round" stroke-linecap="round"/>
<path d="M37.7 351.3L44.6 351.3L51.4 351.3L58.3 351.3L65.2 352.6L72.1 353.4L79.0 353.4L85.8 352.6L92.7 351.3L99.6 352.6L106.5 353.4L113.4 389.0L120.2 425.0" stroke="#d95f02" stroke-width="1.3" fill="none" stroke-linejoin="round" stroke-linecap="round"/>
<path d="M37.7 351.3L44.6 351.3L51.4 351.3L58.3 351.3L65.2 351.2L72.1 346.8L79.0 349.5L85.8 346.4L92.7 351.4L99.6 351.1L106.5 351.0L113.4 349.0L120.2 347.1M37.7 351.3L44.6 351.3L51.4 351.3L58.3 351.3L65.2 350.1L72.1 346.4L79.0 350.6L85.8 350.3L92.7 351.1L99.6 347.6L106.5 350.0L113.4 348.1L120.2 346.9M37.7 351.3L44.6 351.3L51.4 351.3L58.3 351.3L65.2 349.0L72.1 346.5L79.0 350.1L85.8 351.5L92.7 349.7L99.6 349.9L106.5 347.8L113.4 352.0L120.2 351.2M37.7 351.3L44.6 351.3L51.4 351.3L58.3 351.3L65.2 350.9L72.1 347.1L79.0 351.5L85.8 352.0L92.7 347.7L99.6 347.7L106.5 350.3L113.4 351.3L120.2 350.3M37.7 351.3L44.6 351.3L51.4 351.3L58.3 351.3L65.2 349.9L72.1 347.8L79.0 351.6L85.8 350.4L92.7 351.6L99.6 352.3L106.5 347.2L113.4 347.5L120.2 352.1M37.7 351.3L44.6 351.3L51.4 351.3L58.3 351.3L65.2 351.1L72.1 346.4L79.0 350.7L85.8 347.5L92.7 351.8L99.6 347.1L106.5 351.2L113.4 348.8L120.2 347.5M37.7 351.3L44.6 351.3L51.4 351.3L58.3 351.3L65.2 350.5L72.1 349.2L79.0 347.9L85.8 346.3L92.7 346.3L99.6 349.6L106.5 349.2L113.4 350.0L120.2 349.6" stroke="#7570b3" stroke-width="1.1" fill="none" stroke-linejoin="round" stroke-linecap="round"/>
<path d="M37.7 351.3L44.6 351.3L51.4 351.3L58.3 351.3L65.2 349.8L72.1 346.9L79.0 351.1L85.8 349.2L92.7 348.9L99.6 349.9L106.5 351.2L113.4 350.3L120.2 350.3M37.7 351.3L44.6 351.3L51.4 351.3L58.3 351.3L65.2 351.1L72.1 349.7L79.0 347.6L85.8 349.0L92.7 349.0L99.6 347.6L106.5 350.7L113.4 349.8L120.2 350.3M37.7 351.3L44.6 351.3L51.4 351.3L58.3 351.3L65.2 350.0L72.1 348.8L79.0 349.8L85.8 349.9L92.7 350.4L99.6 347.1L106.5 348.2L113.4 348.2L120.2 347.0M37.7 351.3L44.6 351.3L51.4 351.3L58.3 351.3L65.2 351.0L72.1 349.0L79.0 349.4L85.8 350.2L92.7 346.8L99.6 350.2L106.5 348.5L113.4 350.6L120.2 351.2M37.7 351.3L44.6 351.3L51.4 351.3L58.3 351.3L65.2 350.2L72.1 349.2L79.0 346.9L85.8 347.5L92.7 351.0L99.6 347.4L106.5 347.7L113.4 349.6L120.2 347.5M37.7 351.3L44.6 351.3L51.4 351.3L58.3 351.3L65.2 350.2L72.1 347.4L79.0 351.0L85.8 350.0L92.7 347.1L99.6 349.2L106.5 348.0L113.4 347.3L120.2 347.8M37.7 351.3L44.6 351.3L51.4 351.3L58.3 351.3L65.2 349.2L72.1 351.3L79.0 349.9L85.8 349.8L92.7 347.2L99.6 347.6L106.5 349.2L113.4 350.9L120.2 347.4M37.7 351.3L44.6 351.3L51.4 351.3L58.3 351.3L65.2 350.5L72.1 350.8L79.0 350.5L85.8 347.6L92.7 350.5L99.6 350.6L106.5 347.2L113.4 350.6L120.2 349.5M37.7 351.3L44.6 351.3L51.4 351.3L58.3 351.3L65.2 350.5L72.1 348.3L79.0 348.0L85.8 349.3L92.7 347.0L99.6 350.2L106.5 349.7L113.4 349.1L120.2 350.2M37.7 351.3L44.6 351.3L51.4 351.3L58.3 351.3L65.2 351.2L72.1 349.5L79.0 347.7L85.8 347.5L92.7 349.9L99.6 346.8L106.5 347.5L113.4 350.2L120.2 348.2M37.7 351.3L44.6 351.3L51.4 351.3L58.3 351.3L65.2 350.5L72.1 360.1L79.0 349.2L85.8 350.0L92.7 372.7L99.6 349.2L106.5 347.9L113.4 349.2L120.2 348.8M37.7 351.3L44.6 351.3L51.4 351.3L58.3 351.3L65.2 350.0L72.1 347.9L79.0 349.2L85.8 349.6L92.7 349.2L99.6 348.8L106.5 347.9L113.4 313.6L120.2 278.4" stroke="#e7298a" stroke-width="1.1" fill="none" stroke-linejoin="round" stroke-linecap="round"/>
<path d="M129.2 351.3L135.6 351.3L142.1 351.3L148.5 351.3L154.9 351.3L161.3 353.4L167.7 353.4L174.2 351.3L180.6 351.3L187.0 351.3L193.4 351.3L199.8 351.3L206.3 351.3M129.2 351.3L135.6 351.3L142.1 351.3L148.5 351.3L154.9 351.3L161.3 353.4L167.7 353.4L174.2 351.3L180.6 349.2L187.0 347.9L193.4 347.9L199.8 313.6L206.3 355.5M129.2 351.3L135.6 351.3L142.1 351.3L148.5 351.3L154.9 351.3L161.3 353.4L167.7 353.4L174.2 351.3L180.6 349.2L187.0 347.9L193.4 350.0L199.8 374.3L206.3 412.1M129.2 351.3L135.6 351.3L142.1 351.3L148.5 351.3L154.9 351.3L161.3 353.4L167.7 353.4L174.2 351.3L180.6 349.2L187.0 347.9L193.4 350.0L199.8 379.0L206.3 379.0M129.2 351.3L135.6 351.3L142.1 351.3L148.5 351.3L154.9 351.3L161.3 353.4L167.7 353.4L174.2 351.3L180.6 349.2L187.0 347.9L193.4 313.6L199.8 349.2L206.3 355.5" stroke="#1b9e77" stroke-width="1.1" fill="none" stroke-linejoin="round" stroke-linecap="round"/>
<path d="M129.2 351.3L135.6 351.3L142.1 351.3L148.5 351.3L154.9 351.3L161.3 353.4L167.7 353.4L174.2 351.3L180.6 349.2L187.0 347.9L193.4 350.0L199.8 375.6L206.3 422.9" stroke="#1b9e77" stroke-width="1.3" fill="none" stroke-linejoin="round" stroke-linecap="round"/>
<path d="M129.2 351.3L135.6 351.3L142.1 351.3L148.5 351.3L154.9 351.3L161.3 351.3L167.7 351.3L174.2 351.3L180.6 351.3L187.0 351.3L193.4 351.3L199.8 351.3L206.3 351.3" stroke="#d95f02" stroke-width="1.1" fill="none" stroke-linejoin="round" stroke-linecap="round"/>
<path d="M129.2 351.3L135.6 351.3L142.1 351.3L148.5 351.3L154.9 351.3L161.3 351.3L167.7 351.3L174.2 350.0L180.6 344.6L187.0 343.3L193.4 335.0L199.8 335.0L206.3 335.8M129.2 351.3L135.6 351.3L142.1 351.3L148.5 351.3L154.9 351.3L161.3 351.3L167.7 351.3L174.2 350.0L180.6 345.0L187.0 342.1L193.4 335.8L199.8 335.4L206.3 335.4M129.2 351.3L135.6 351.3L142.1 351.3L148.5 351.3L154.9 351.3L161.3 351.3L167.7 351.3L174.2 350.0L180.6 345.0L187.0 342.9L193.4 336.6L199.8 340.8L206.3 346.1M129.2 351.3L135.6 351.3L142.1 351.3L148.5 351.3L154.9 351.3L161.3 351.3L167.7 351.3L174.2 350.0L180.6 345.0L187.0 395.3L193.4 335.4L199.8 335.0L206.3 336.2" stroke="#7570b3" stroke-width="1.1" fill="none" stroke-linejoin="round" stroke-linecap="round"/>
<path d="M129.2 351.3L135.6 351.3L142.1 351.3L148.5 351.3L154.9 351.3L161.3 351.3L167.7 351.3L174.2 349.0L180.6 344.6L187.0 309.8L193.4 310.9L199.8 309.0L206.3 305.1M129.2 351.3L135.6 351.3L142.1 351.3L148.5 351.3L154.9 351.3L161.3 351.3L167.7 351.3L174.2 349.0L180.6 344.6L187.0 317.9L193.4 320.0L199.8 319.4L206.3 316.3M129.2 351.3L135.6 351.3L142.1 351.3L148.5 351.3L154.9 351.3L161.3 351.3L167.7 351.3L174.2 349.0L180.6 344.6L187.0 309.8L193.4 306.8L199.8 304.9L206.3 309.4M129.2 351.3L135.6 351.3L142.1 351.3L148.5 351.3L154.9 351.3L161.3 351.3L167.7 351.3L174.2 349.0L180.6 344.6L187.0 318.7L193.4 320.0L199.8 318.6L206.3 316.0M129.2 351.3L135.6 351.3L142.1 351.3L148.5 351.3L154.9 351.3L161.3 351.3L167.7 351.3L174.2 349.0L180.6 344.6L187.0 310.9L193.4 306.4L199.8 305.0L206.3 308.2M129.2 351.3L135.6 351.3L142.1 351.3L148.5 351.3L154.9 351.3L161.3 351.3L167.7 351.3L174.2 349.0L180.6 344.6L187.0 319.9L193.4 314.8L199.8 316.9L206.3 317.1M129.2 351.3L135.6 351.3L142.1 351.3L148.5 351.3L154.9 351.3L161.3 351.3L167.7 351.3L174.2 349.0L180.6 344.6L187.0 313.2L193.4 318.2L199.8 307.3L206.3 319.0M129.2 351.3L135.6 351.3L142.1 351.3L148.5 351.3L154.9 351.3L161.3 351.3L167.7 351.3L174.2 349.0L180.6 344.6L187.0 319.0L193.4 308.1L199.8 318.2L206.3 308.1M129.2 351.3L135.6 351.3L142.1 351.3L148.5 351.3L154.9 351.3L161.3 351.3L167.7 351.3L174.2 349.0L180.6 344.6L187.0 367.6L193.4 309.4L199.8 308.6L206.3 309.8M129.2 351.3L135.6 351.3L142.1 351.3L148.5 351.3L154.9 351.3L161.3 351.3L167.7 351.3L174.2 349.0L180.6 344.6L187.0 313.6L193.4 311.5L199.8 373.9L206.3 374.8" stroke="#e7298a" stroke-width="1.1" fill="none" stroke-linejoin="round" stroke-linecap="round"/>
<path d="M33.40 309.40h3.6 M33.40 351.30h3.6 M33.40 393.20h3.6 M33.40 435.10h3.6 M65.20 443.60v-3.6 M154.90 443.60v-3.6 M99.60 443.60v-3.6 M187.00 443.60v-3.6" stroke="#1a1a1a" stroke-width="1.25" fill="none"/>
<rect x="33.40" y="270.90" width="176.50" height="172.70" fill="none" stroke="#111" stroke-width="1.6"/>
<line x1="125.10" y1="270.90" x2="125.10" y2="443.60" stroke="#000" stroke-width="2.4"/>
<text transform="translate(31.20 312.85) scale(1 1.05)" text-anchor="end" font-size="9.2">10</text>
<text transform="translate(31.20 354.75) scale(1 1.05)" text-anchor="end" font-size="9.2">0</text>
<text transform="translate(31.20 396.65) scale(1 1.05)" text-anchor="end" font-size="9.2">−10</text>
<text transform="translate(31.20 438.55) scale(1 1.05)" text-anchor="end" font-size="9.2">−20</text>
<text transform="translate(65.20 452.00) scale(1 1.05)" text-anchor="middle" font-size="9.2">2025</text>
<text transform="translate(154.90 452.00) scale(1 1.05)" text-anchor="middle" font-size="9.2">2025</text>
<text transform="translate(99.60 452.00) scale(1 1.05)" text-anchor="middle" font-size="9.2">2030</text>
<text transform="translate(187.00 452.00) scale(1 1.05)" text-anchor="middle" font-size="9.2">2030</text>
<text transform="translate(79.25 463.10)" text-anchor="middle" font-size="9.8">Year</text>
<text transform="translate(167.50 463.10)" text-anchor="middle" font-size="9.8">Year</text>
<text transform="translate(11.19 357.25) rotate(-90)" text-anchor="middle" font-size="9.75">% change in PRODUCTION, rel. 2020</text>
<text x="79.25" y="267.90" text-anchor="middle" font-size="10.5">4D</text>
<text x="167.50" y="267.90" text-anchor="middle" font-size="10.5">2D</text>
<text x="121.65" y="244.60" text-anchor="middle" font-size="10.64">Change in cobalt production due to</text>
<text x="121.65" y="256.60" text-anchor="middle" font-size="10.64">copper demand shifter change</text>
<text x="-1.00" y="244.60" font-size="9.8">d)</text>
<text x="41.30" y="285.40" font-size="8.6">Cu DS slope</text>
<text x="41.30" y="294.50" font-size="8.6">% of hist.</text>
<line x1="41.30" y1="301.10" x2="54.20" y2="301.10" stroke="#1b9e77" stroke-width="2.7" stroke-linecap="round"/>
<text x="61.40" y="304.20" font-size="8.6">−50</text>
<line x1="41.30" y1="310.90" x2="54.20" y2="310.90" stroke="#d95f02" stroke-width="2.7" stroke-linecap="round"/>
<text x="61.40" y="314.00" font-size="8.6">−25</text>
<line x1="41.30" y1="320.70" x2="54.20" y2="320.70" stroke="#7570b3" stroke-width="2.7" stroke-linecap="round"/>
<text x="61.40" y="323.80" font-size="8.6">+50</text>
<line x1="41.30" y1="330.50" x2="54.20" y2="330.50" stroke="#e7298a" stroke-width="2.7" stroke-linecap="round"/>
<text x="61.40" y="333.60" font-size="8.6">+100</text>
<path d="M270.50 297.00H447.00 M270.50 328.00H447.00 M270.50 359.00H447.00 M270.50 390.00H447.00 M270.50 421.00H447.00 M302.30 270.90V443.60 M392.00 270.90V443.60 M336.70 270.90V443.60 M424.10 270.90V443.60" stroke="#ededed" stroke-width="0.8" fill="none"/>
<path d="M274.8 359.0L281.7 367.1L288.5 359.0L295.4 359.0L302.3 362.4L309.2 377.0L316.1 390.0L322.9 366.8L329.8 364.6L336.7 365.5L343.6 364.6L350.5 365.2L357.3 368.3M274.8 359.0L281.7 367.1L288.5 359.0L295.4 359.0L302.3 362.4L309.2 376.1L316.1 391.6L322.9 366.8L329.8 364.6L336.7 365.2L343.6 364.6L350.5 364.6L357.3 403.0M274.8 359.0L281.7 367.1L288.5 359.0L295.4 359.0L302.3 362.4L309.2 377.6L316.1 412.6L322.9 412.6L329.8 365.2L336.7 366.8L343.6 366.4L350.5 365.8L357.3 369.9M274.8 359.0L281.7 367.1L288.5 359.0L295.4 359.0L302.3 362.4L309.2 371.4L316.1 383.8L322.9 366.8L329.8 364.6L336.7 421.3L343.6 364.6L350.5 363.6L357.3 365.2M274.8 359.0L281.7 367.1L288.5 359.0L295.4 359.0L302.3 362.4L309.2 374.5L316.1 386.9L322.9 368.3L329.8 365.2L336.7 363.6L343.6 366.8L350.5 365.2L357.3 366.8" stroke="#1b9e77" stroke-width="1.1" fill="none" stroke-linejoin="round" stroke-linecap="round"/>
<path d="M274.8 359.0L281.7 367.1L288.5 359.0L295.4 359.0L302.3 362.4L309.2 377.0L316.1 412.6L322.9 412.6L329.8 364.6L336.7 421.3L343.6 364.6L350.5 364.6L357.3 435.3" stroke="#1b9e77" stroke-width="1.3" fill="none" stroke-linejoin="round" stroke-linecap="round"/>
<path d="M274.8 359.0L281.7 359.0L288.5 359.0L295.4 359.0L302.3 366.5L309.2 367.0L316.1 361.8L322.9 361.8L329.8 371.6L336.7 365.7L343.6 353.9L350.5 358.4L357.3 366.2M274.8 359.0L281.7 359.0L288.5 359.0L295.4 359.0L302.3 366.5L309.2 365.7L316.1 358.7L322.9 360.0L329.8 371.5L336.7 366.1L343.6 352.4L350.5 357.0L357.3 366.8M274.8 359.0L281.7 359.0L288.5 359.0L295.4 359.0L302.3 363.4L309.2 367.2L316.1 358.9L322.9 362.3L329.8 370.3L336.7 364.9L343.6 352.1L350.5 357.0L357.3 367.8M274.8 359.0L281.7 359.0L288.5 359.0L295.4 359.0L302.3 365.6L309.2 365.6L316.1 361.8L322.9 359.5L329.8 374.2L336.7 367.0L343.6 354.3L350.5 357.1L357.3 369.2M274.8 359.0L281.7 359.0L288.5 359.0L295.4 359.0L302.3 368.2L309.2 363.7L316.1 359.7L322.9 363.1L329.8 370.4L336.7 364.4L343.6 354.1L350.5 358.6L357.3 367.0M274.8 359.0L281.7 359.0L288.5 359.0L295.4 359.0L302.3 359.0L309.2 359.0L316.1 359.3L322.9 359.6L329.8 359.9L336.7 360.6L343.6 354.4L350.5 354.0L357.3 372.6M274.8 359.0L281.7 359.0L288.5 359.0L295.4 359.0L302.3 359.0L309.2 359.0L316.1 359.3L322.9 359.6L329.8 359.9L336.7 360.6L343.6 360.6L350.5 355.9L357.3 362.1" stroke="#d95f02" stroke-width="1.1" fill="none" stroke-linejoin="round" stroke-linecap="round"/>
<path d="M274.8 359.0L281.7 358.4L288.5 354.7L295.4 353.4L302.3 338.4L309.2 345.8L316.1 357.3L322.9 330.9L329.8 326.3L336.7 351.1L343.6 326.3L350.5 318.5L357.3 341.6M274.8 359.0L281.7 358.4L288.5 354.7L295.4 351.3L302.3 338.8L309.2 344.3L316.1 355.0L322.9 334.1L329.8 325.6L336.7 348.2L343.6 325.6L350.5 318.8L357.3 343.2M274.8 359.0L281.7 358.4L288.5 354.7L295.4 356.6L302.3 335.5L309.2 341.4L316.1 355.6L322.9 333.1L329.8 328.1L336.7 352.1L343.6 327.9L350.5 313.5L357.3 346.0M274.8 359.0L281.7 358.4L288.5 354.7L295.4 352.3L302.3 339.8L309.2 344.5L316.1 354.2L322.9 329.4L329.8 324.6L336.7 347.1L343.6 325.3L350.5 318.6L357.3 342.3M274.8 359.0L281.7 358.4L288.5 354.7L295.4 353.7L302.3 338.8L309.2 346.2L316.1 356.1L322.9 332.8L329.8 325.7L336.7 352.2L343.6 328.2L350.5 317.2L357.3 342.9M274.8 359.0L281.7 358.4L288.5 354.7L295.4 351.3L302.3 340.2L309.2 341.1L316.1 354.4L322.9 328.7L329.8 327.1L336.7 347.8L343.6 327.5L350.5 315.9L357.3 346.1M274.8 359.0L281.7 358.4L288.5 354.7L295.4 353.2L302.3 335.9L309.2 342.1L316.1 356.3L322.9 328.8L329.8 325.8L336.7 349.6L343.6 324.0L350.5 315.7L357.3 344.9M274.8 359.0L281.7 358.4L288.5 354.7L295.4 354.0L302.3 337.9L309.2 343.8L316.1 355.6L322.9 331.4L329.8 326.4L336.7 364.3L343.6 326.4L350.5 316.2L357.3 349.7M274.8 359.0L281.7 358.4L288.5 354.7L295.4 354.0L302.3 353.4L309.2 351.2L316.1 355.6L322.9 354.4L329.8 329.6L336.7 363.6L343.6 324.9L350.5 323.4L357.3 323.4M274.8 359.0L281.7 358.4L288.5 354.7L295.4 354.0L302.3 343.5L309.2 345.1L316.1 355.6L322.9 355.3L329.8 328.0L336.7 349.7L343.6 334.2L350.5 321.8L357.3 337.3" stroke="#7570b3" stroke-width="1.1" fill="none" stroke-linejoin="round" stroke-linecap="round"/>
<path d="M274.8 359.0L281.7 355.6L288.5 343.2L295.4 353.8L302.3 333.3L309.2 328.7L316.1 347.3L322.9 313.1L329.8 295.0L336.7 332.3L343.6 290.1L350.5 280.1L357.3 308.8M274.8 359.0L281.7 355.6L288.5 343.2L295.4 350.4L302.3 331.1L309.2 329.9L316.1 349.3L322.9 312.1L329.8 292.5L336.7 333.4L343.6 294.8L350.5 278.9L357.3 309.6M274.8 359.0L281.7 355.6L288.5 343.2L295.4 356.3L302.3 331.1L309.2 330.5L316.1 348.6L322.9 316.6L329.8 294.2L336.7 336.2L343.6 294.5L350.5 280.6L357.3 307.3M274.8 359.0L281.7 355.6L288.5 343.2L295.4 352.1L302.3 329.5L309.2 330.6L316.1 347.2L322.9 312.2L329.8 290.5L336.7 331.5L343.6 295.7L350.5 279.1L357.3 306.8M274.8 359.0L281.7 355.6L288.5 343.2L295.4 352.3L302.3 333.0L309.2 329.0L316.1 345.9L322.9 316.9L329.8 295.8L336.7 330.9L343.6 295.8L350.5 276.6L357.3 310.7M274.8 359.0L281.7 355.6L288.5 343.2L295.4 356.5L302.3 329.0L309.2 327.5L316.1 349.2L322.9 313.4L329.8 294.9L336.7 334.6L343.6 294.0L350.5 278.8L357.3 311.9M274.8 359.0L281.7 355.6L288.5 343.2L295.4 353.4L302.3 332.0L309.2 329.2L316.1 346.6L322.9 304.4L329.8 301.6L336.7 349.7L343.6 333.6L350.5 333.6L357.3 315.6M274.8 359.0L281.7 355.6L288.5 354.4L295.4 353.4L302.3 353.4L309.2 354.4L316.1 351.2L322.9 328.0L329.8 348.1L336.7 333.6L343.6 333.6L350.5 333.6L357.3 309.4M274.8 359.0L281.7 355.6L288.5 354.4L295.4 353.4L302.3 352.8L309.2 351.2L316.1 328.0L322.9 346.6L329.8 303.2L336.7 334.2L343.6 297.0L350.5 287.7L357.3 281.8M274.8 359.0L281.7 355.6L288.5 354.4L295.4 353.4L302.3 334.2L309.2 331.1L316.1 329.6L322.9 328.0L329.8 304.4L336.7 349.7L343.6 297.0L350.5 281.8L357.3 281.8" stroke="#e7298a" stroke-width="1.1" fill="none" stroke-linejoin="round" stroke-linecap="round"/>
<path d="M274.8 359.0L281.7 355.6L288.5 343.2L295.4 350.7L302.3 333.7L309.2 327.6L316.1 345.6L322.9 313.5L329.8 292.2L336.7 336.4L343.6 293.3L350.5 278.7L357.3 309.5" stroke="#e7298a" stroke-width="1.3" fill="none" stroke-linejoin="round" stroke-linecap="round"/>
<path d="M366.3 359.0L372.7 360.2L379.2 366.8L385.6 372.6L392.0 363.0L398.4 374.8L404.8 377.6L411.3 387.8L417.7 387.8L424.1 390.6L430.5 393.7L436.9 398.1L443.4 403.0M366.3 359.0L372.7 360.2L379.2 366.8L385.6 367.7L392.0 377.0L398.4 375.7L404.8 378.2L411.3 387.5L417.7 388.1L424.1 390.0L430.5 393.1L436.9 396.8L443.4 399.3M366.3 359.0L372.7 360.2L379.2 366.8L385.6 368.3L392.0 363.0L398.4 374.5L404.8 377.6L411.3 387.8L417.7 387.5L424.1 390.9L430.5 394.3L436.9 399.0L443.4 401.2" stroke="#1b9e77" stroke-width="1.1" fill="none" stroke-linejoin="round" stroke-linecap="round"/>
<path d="M366.3 359.0L372.7 359.3L379.2 361.6L385.6 366.1L392.0 362.4L398.4 360.2L404.8 373.3L411.3 374.8L417.7 373.3L424.1 374.8L430.5 375.4L436.9 376.1L443.4 376.1M366.3 359.0L372.7 359.3L379.2 360.9L385.6 361.8L392.0 362.4L398.4 359.9L404.8 372.9L411.3 374.5L417.7 373.9L424.1 374.5L430.5 375.4L436.9 375.7L443.4 388.4M366.3 359.0L372.7 359.3L379.2 361.2L385.6 362.1L392.0 362.4L398.4 362.1L404.8 373.6L411.3 374.8L417.7 373.6L424.1 375.1L430.5 375.7L436.9 376.4L443.4 375.7" stroke="#d95f02" stroke-width="1.1" fill="none" stroke-linejoin="round" stroke-linecap="round"/>
<path d="M366.3 359.0L372.7 358.4L379.2 346.0L385.6 346.9L392.0 343.8L398.4 341.6L404.8 340.1L411.3 339.5L417.7 333.6L424.1 331.4L430.5 319.0L436.9 317.5L443.4 316.8M366.3 359.0L372.7 358.4L379.2 346.0L385.6 351.9L392.0 344.7L398.4 341.0L404.8 340.4L411.3 339.2L417.7 334.2L424.1 332.0L430.5 332.3L436.9 318.7L443.4 317.5M366.3 359.0L372.7 358.4L379.2 346.6L385.6 348.1L392.0 344.1L398.4 342.3L404.8 339.8L411.3 339.8L417.7 334.8L424.1 330.8L430.5 319.9L436.9 318.1L443.4 317.8M366.3 359.0L372.7 358.4L379.2 346.3L385.6 347.2L392.0 343.5L398.4 341.9L404.8 340.4L411.3 339.5L417.7 333.3L424.1 331.1L430.5 319.6L436.9 319.0L443.4 318.4" stroke="#7570b3" stroke-width="1.1" fill="none" stroke-linejoin="round" stroke-linecap="round"/>
<path d="M366.3 359.0L372.7 346.9L379.2 346.0L385.6 336.7L392.0 326.4L398.4 322.7L404.8 321.2L411.3 315.3L417.7 309.7L424.1 306.0L430.5 306.0L436.9 301.6L443.4 299.5M366.3 359.0L372.7 346.9L379.2 346.0L385.6 341.0L392.0 327.4L398.4 322.1L404.8 321.2L411.3 315.3L417.7 309.7L424.1 306.0L430.5 306.0L436.9 301.6L443.4 299.5M366.3 359.0L372.7 346.9L379.2 346.6L385.6 338.9L392.0 328.0L398.4 323.4L404.8 320.9L411.3 315.6L417.7 309.4L424.1 306.3L430.5 305.7L436.9 302.0L443.4 299.8" stroke="#e7298a" stroke-width="1.1" fill="none" stroke-linejoin="round" stroke-linecap="round"/>
<path d="M270.50 297.00h3.6 M270.50 328.00h3.6 M270.50 359.00h3.6 M270.50 390.00h3.6 M270.50 421.00h3.6 M302.30 443.60v-3.6 M392.00 443.60v-3.6 M336.70 443.60v-3.6 M424.10 443.60v-3.6" stroke="#1a1a1a" stroke-width="1.25" fill="none"/>
<rect x="270.50" y="270.90" width="176.50" height="172.70" fill="none" stroke="#111" stroke-width="1.6"/>
<line x1="362.20" y1="270.90" x2="362.20" y2="443.60" stroke="#000" stroke-width="2.4"/>
<text transform="translate(268.30 300.45) scale(1 1.05)" text-anchor="end" font-size="9.2">20</text>
<text transform="translate(268.30 331.45) scale(1 1.05)" text-anchor="end" font-size="9.2">10</text>
<text transform="translate(268.30 362.45) scale(1 1.05)" text-anchor="end" font-size="9.2">0</text>
<text transform="translate(268.30 393.45) scale(1 1.05)" text-anchor="end" font-size="9.2">−10</text>
<text transform="translate(268.30 424.45) scale(1 1.05)" text-anchor="end" font-size="9.2">−20</text>
<text transform="translate(302.30 452.00) scale(1 1.05)" text-anchor="middle" font-size="9.2">2025</text>
<text transform="translate(392.00 452.00) scale(1 1.05)" text-anchor="middle" font-size="9.2">2025</text>
<text transform="translate(336.70 452.00) scale(1 1.05)" text-anchor="middle" font-size="9.2">2030</text>
<text transform="translate(424.10 452.00) scale(1 1.05)" text-anchor="middle" font-size="9.2">2030</text>
<text transform="translate(316.35 463.10)" text-anchor="middle" font-size="9.8">Year</text>
<text transform="translate(404.60 463.10)" text-anchor="middle" font-size="9.8">Year</text>
<text transform="translate(248.29 357.25) rotate(-90)" text-anchor="middle" font-size="9.75">% change in PRODUCTION, rel. 2020</text>
<text x="316.35" y="267.90" text-anchor="middle" font-size="10.5">4D</text>
<text x="404.60" y="267.90" text-anchor="middle" font-size="10.5">2D</text>
<text x="358.75" y="244.60" text-anchor="middle" font-size="10.64">Change in copper production due to</text>
<text x="358.75" y="256.60" text-anchor="middle" font-size="10.64">copper demand shifter change</text>
<text x="237.00" y="244.60" font-size="9.8">e)</text>
<text x="278.40" y="385.70" font-size="8.6">Cu DS slope</text>
<text x="278.40" y="394.80" font-size="8.6">% of hist.</text>
<line x1="278.40" y1="401.40" x2="291.30" y2="401.40" stroke="#1b9e77" stroke-width="2.7" stroke-linecap="round"/>
<text x="298.50" y="404.50" font-size="8.6">−50</text>
<line x1="278.40" y1="411.20" x2="291.30" y2="411.20" stroke="#d95f02" stroke-width="2.7" stroke-linecap="round"/>
<text x="298.50" y="414.30" font-size="8.6">−25</text>
<line x1="278.40" y1="421.00" x2="291.30" y2="421.00" stroke="#7570b3" stroke-width="2.7" stroke-linecap="round"/>
<text x="298.50" y="424.10" font-size="8.6">+50</text>
<line x1="278.40" y1="430.80" x2="291.30" y2="430.80" stroke="#e7298a" stroke-width="2.7" stroke-linecap="round"/>
<text x="298.50" y="433.90" font-size="8.6">+100</text>
<path d="M507.50 273.80H684.00 M507.50 305.30H684.00 M507.50 336.80H684.00 M507.50 368.30H684.00 M507.50 399.80H684.00 M507.50 431.30H684.00 M539.30 270.90V443.60 M629.00 270.90V443.60 M573.70 270.90V443.60 M661.10 270.90V443.60" stroke="#ededed" stroke-width="0.8" fill="none"/>
<path d="M511.8 336.8L518.7 336.8L525.5 336.8L532.4 336.8L539.3 336.8L546.2 336.8L553.1 336.8L559.9 336.8L566.8 347.1L573.7 350.7L580.6 340.6L587.5 348.8L594.3 337.4M511.8 336.8L518.7 336.8L525.5 336.8L532.4 336.8L539.3 336.8L546.2 336.8L553.1 336.8L559.9 336.8L566.8 342.6L573.7 345.8L580.6 335.4L587.5 345.5L594.3 349.3M511.8 336.8L518.7 336.8L525.5 336.8L532.4 336.8L539.3 336.8L546.2 336.8L553.1 336.8L559.9 336.8L566.8 349.1L573.7 345.4L580.6 339.7L587.5 337.9L594.3 350.4M511.8 336.8L518.7 336.8L525.5 336.8L532.4 336.8L539.3 336.8L546.2 336.8L553.1 336.8L559.9 336.8L566.8 347.8L573.7 335.5L580.6 342.4L587.5 337.4L594.3 339.1M511.8 336.8L518.7 336.8L525.5 336.8L532.4 336.8L539.3 336.8L546.2 336.8L553.1 336.8L559.9 336.8L566.8 338.4L573.7 360.0L580.6 354.1L587.5 354.1L594.3 354.1M511.8 336.8L518.7 336.8L525.5 336.8L532.4 336.8L539.3 336.8L546.2 336.8L553.1 336.8L559.9 336.8L566.8 336.8L573.7 336.8L580.6 336.8L587.5 278.5L594.3 436.0M511.8 336.8L518.7 336.8L525.5 336.8L532.4 336.8L539.3 336.8L546.2 336.8L553.1 336.8L559.9 336.8L566.8 338.4L573.7 347.8L580.6 341.5L587.5 333.7L594.3 321.1" stroke="#1b9e77" stroke-width="1.1" fill="none" stroke-linejoin="round" stroke-linecap="round"/>
<path d="M511.8 336.8L518.7 336.8L525.5 336.8L532.4 336.8L539.3 336.8L546.2 336.8L553.1 336.8L559.9 336.8L566.8 341.3L573.7 338.4L580.6 342.1L587.5 340.6L594.3 335.3M511.8 336.8L518.7 336.8L525.5 336.8L532.4 336.8L539.3 336.8L546.2 336.8L553.1 336.8L559.9 336.8L566.8 339.8L573.7 339.7L580.6 344.6L587.5 336.2L594.3 342.4M511.8 336.8L518.7 336.8L525.5 336.8L532.4 336.8L539.3 336.8L546.2 336.8L553.1 336.8L559.9 336.8L566.8 341.9L573.7 340.8L580.6 334.4L587.5 334.9L594.3 339.3M511.8 336.8L518.7 336.8L525.5 336.8L532.4 336.8L539.3 336.8L546.2 336.8L553.1 336.8L559.9 336.8L566.8 334.1L573.7 340.7L580.6 339.5L587.5 337.1L594.3 334.8M511.8 336.8L518.7 336.8L525.5 336.8L532.4 336.8L539.3 336.8L546.2 336.8L553.1 336.8L559.9 336.8L566.8 338.4L573.7 350.5L580.6 336.8L587.5 328.0L594.3 345.5" stroke="#d95f02" stroke-width="1.1" fill="none" stroke-linejoin="round" stroke-linecap="round"/>
<path d="M511.8 336.8L518.7 336.8L525.5 336.8L532.4 336.8L539.3 336.8L546.2 338.9L553.1 335.6L559.9 336.1L566.8 338.3L573.7 332.6L580.6 334.3L587.5 336.5L594.3 335.0M511.8 336.8L518.7 336.8L525.5 336.8L532.4 336.8L539.3 336.8L546.2 334.9L553.1 338.3L559.9 337.6L566.8 337.6L573.7 336.1L580.6 335.9L587.5 336.1L594.3 338.9M511.8 336.8L518.7 336.8L525.5 336.8L532.4 336.8L539.3 336.8L546.2 338.7L553.1 331.2L559.9 336.5L566.8 332.2L573.7 334.8L580.6 333.7L587.5 333.1L594.3 331.8M511.8 336.8L518.7 336.8L525.5 336.8L532.4 336.8L539.3 336.8L546.2 335.3L553.1 335.7L559.9 330.5L566.8 336.0L573.7 339.9L580.6 331.0L587.5 336.0L594.3 332.5M511.8 336.8L518.7 336.8L525.5 336.8L532.4 336.8L539.3 336.8L546.2 335.2L553.1 335.2L559.9 325.0L566.8 320.6L573.7 335.2L580.6 333.7L587.5 335.2L594.3 332.1" stroke="#7570b3" stroke-width="1.1" fill="none" stroke-linejoin="round" stroke-linecap="round"/>
<path d="M511.8 336.8L518.7 336.8L525.5 336.8L532.4 336.8L539.3 336.8L546.2 336.0L553.1 335.2L559.9 332.2L566.8 333.4L573.7 339.6L580.6 336.8L587.5 335.6L594.3 334.8M511.8 336.8L518.7 336.8L525.5 336.8L532.4 336.8L539.3 336.8L546.2 336.0L553.1 335.2L559.9 332.0L566.8 340.1L573.7 332.4L580.6 331.2L587.5 339.7L594.3 330.8M511.8 336.8L518.7 336.8L525.5 336.8L532.4 336.8L539.3 336.8L546.2 336.0L553.1 335.2L559.9 335.0L566.8 336.1L573.7 338.3L580.6 339.3L587.5 335.4L594.3 333.8M511.8 336.8L518.7 336.8L525.5 336.8L532.4 336.8L539.3 336.8L546.2 336.0L553.1 335.2L559.9 335.3L566.8 336.8L573.7 332.8L580.6 335.8L587.5 335.7L594.3 340.5M511.8 336.8L518.7 336.8L525.5 336.8L532.4 336.8L539.3 336.8L546.2 335.2L553.1 335.2L559.9 349.4L566.8 350.5L573.7 298.7L580.6 306.1L587.5 319.2L594.3 300.9M511.8 336.8L518.7 336.8L525.5 336.8L532.4 336.8L539.3 336.8L546.2 335.2L553.1 333.7L559.9 333.7L566.8 330.5L573.7 325.8L580.6 328.9L587.5 327.4L594.3 317.9M511.8 336.8L518.7 336.8L525.5 336.8L532.4 336.8L539.3 336.8L546.2 333.7L553.1 351.0L559.9 344.7L566.8 333.7L573.7 332.1L580.6 335.2L587.5 336.8L594.3 388.0M511.8 336.8L518.7 336.8L525.5 336.8L532.4 336.8L539.3 336.8L546.2 335.2L553.1 333.7L559.9 339.9L566.8 344.7L573.7 328.9L580.6 332.1L587.5 330.5L594.3 319.5" stroke="#e7298a" stroke-width="1.1" fill="none" stroke-linejoin="round" stroke-linecap="round"/>
<path d="M511.8 336.8L518.7 336.8L525.5 336.8L532.4 336.8L539.3 336.8L546.2 335.2L553.1 351.0L559.9 348.6L566.8 350.5L573.7 332.1L580.6 333.7L587.5 328.9L594.3 317.9" stroke="#e7298a" stroke-width="1.2" fill="none" stroke-linejoin="round" stroke-linecap="round"/>
<path d="M511.8 336.8L518.7 336.8L525.5 336.8L532.4 336.8L539.3 336.8L546.2 354.1L553.1 335.2L559.9 338.4L566.8 332.1L573.7 335.2L580.6 333.7L587.5 332.1L594.3 328.9M511.8 336.8L518.7 336.8L525.5 336.8L532.4 336.8L539.3 336.8L546.2 335.2L553.1 352.6L559.9 310.3L566.8 311.9L573.7 339.9L580.6 325.0L587.5 325.0L594.3 307.5" stroke="#e7298a" stroke-width="1.4" fill="none" stroke-linejoin="round" stroke-linecap="round"/>
<path d="M603.3 336.8L609.7 336.8L616.2 336.8L622.6 336.8L629.0 336.8L635.4 336.8L641.8 336.8L648.3 336.8L654.7 336.8L661.1 336.8L667.5 336.8L673.9 336.8L680.4 336.8" stroke="#e7298a" stroke-width="1.1" fill="none" stroke-linejoin="round" stroke-linecap="round"/>
<path d="M507.50 273.80h3.6 M507.50 305.30h3.6 M507.50 336.80h3.6 M507.50 368.30h3.6 M507.50 399.80h3.6 M507.50 431.30h3.6 M539.30 443.60v-3.6 M629.00 443.60v-3.6 M573.70 443.60v-3.6 M661.10 443.60v-3.6" stroke="#1a1a1a" stroke-width="1.25" fill="none"/>
<rect x="507.50" y="270.90" width="176.50" height="172.70" fill="none" stroke="#111" stroke-width="1.6"/>
<line x1="599.20" y1="270.90" x2="599.20" y2="443.60" stroke="#000" stroke-width="2.4"/>
<text transform="translate(505.30 277.25) scale(1 1.05)" text-anchor="end" font-size="9.2">4</text>
<text transform="translate(505.30 308.75) scale(1 1.05)" text-anchor="end" font-size="9.2">2</text>
<text transform="translate(505.30 340.25) scale(1 1.05)" text-anchor="end" font-size="9.2">0</text>
<text transform="translate(505.30 371.75) scale(1 1.05)" text-anchor="end" font-size="9.2">−2</text>
<text transform="translate(505.30 403.25) scale(1 1.05)" text-anchor="end" font-size="9.2">−4</text>
<text transform="translate(505.30 434.75) scale(1 1.05)" text-anchor="end" font-size="9.2">−6</text>
<text transform="translate(539.30 452.00) scale(1 1.05)" text-anchor="middle" font-size="9.2">2025</text>
<text transform="translate(629.00 452.00) scale(1 1.05)" text-anchor="middle" font-size="9.2">2025</text>
<text transform="translate(573.70 452.00) scale(1 1.05)" text-anchor="middle" font-size="9.2">2030</text>
<text transform="translate(661.10 452.00) scale(1 1.05)" text-anchor="middle" font-size="9.2">2030</text>
<text transform="translate(553.35 463.10)" text-anchor="middle" font-size="9.8">Year</text>
<text transform="translate(641.60 463.10)" text-anchor="middle" font-size="9.8">Year</text>
<text transform="translate(490.41 357.25) rotate(-90)" text-anchor="middle" font-size="9.75">% change in PRODUCTION, rel. 2020</text>
<text x="553.35" y="267.90" text-anchor="middle" font-size="10.5">4D</text>
<text x="641.60" y="267.90" text-anchor="middle" font-size="10.5">2D</text>
<text x="595.75" y="244.60" text-anchor="middle" font-size="10.64">Change in nickel production due to</text>
<text x="595.75" y="256.60" text-anchor="middle" font-size="10.64">copper demand shifter change</text>
<text x="473.50" y="244.60" font-size="9.8">f)</text>
<text x="515.40" y="385.70" font-size="8.6">Cu DS slope</text>
<text x="515.40" y="394.80" font-size="8.6">% of hist.</text>
<line x1="515.40" y1="401.40" x2="528.30" y2="401.40" stroke="#1b9e77" stroke-width="2.7" stroke-linecap="round"/>
<text x="535.50" y="404.50" font-size="8.6">−50</text>
<line x1="515.40" y1="411.20" x2="528.30" y2="411.20" stroke="#d95f02" stroke-width="2.7" stroke-linecap="round"/>
<text x="535.50" y="414.30" font-size="8.6">−25</text>
<line x1="515.40" y1="421.00" x2="528.30" y2="421.00" stroke="#7570b3" stroke-width="2.7" stroke-linecap="round"/>
<text x="535.50" y="424.10" font-size="8.6">+50</text>
<line x1="515.40" y1="430.80" x2="528.30" y2="430.80" stroke="#e7298a" stroke-width="2.7" stroke-linecap="round"/>
<text x="535.50" y="433.90" font-size="8.6">+100</text>
<path d="M33.40 522.30H209.90 M33.40 544.90H209.90 M33.40 567.50H209.90 M33.40 590.10H209.90 M33.40 612.70H209.90 M33.40 635.30H209.90 M33.40 657.90H209.90 M65.20 507.90V680.60 M154.90 507.90V680.60 M99.60 507.90V680.60 M187.00 507.90V680.60" stroke="#ededed" stroke-width="0.8" fill="none"/>
<path d="M37.7 590.1L44.6 590.1L51.4 590.1L58.3 591.0L65.2 592.4L72.1 579.3L79.0 577.4L85.8 578.8L92.7 580.2L99.6 578.8L106.5 569.3L113.4 581.1L120.2 551.7M37.7 590.1L44.6 590.1L51.4 590.1L58.3 591.0L65.2 592.4L72.1 581.1L79.0 578.8L85.8 580.2L92.7 582.0L99.6 580.2L106.5 583.3L113.4 582.0L120.2 581.1M37.7 590.1L44.6 590.1L51.4 590.1L58.3 591.0L65.2 593.7L72.1 604.6L79.0 612.7L85.8 633.0L92.7 634.4L99.6 629.9L106.5 629.9L113.4 629.0L120.2 628.1M37.7 590.1L44.6 590.1L51.4 590.1L58.3 591.0L65.2 593.7L72.1 605.9L79.0 615.0L85.8 635.3L92.7 641.6L99.6 640.3L106.5 640.7L113.4 641.6L120.2 636.7M37.7 590.1L44.6 590.1L51.4 590.1L58.3 591.0L65.2 593.7L72.1 603.7L79.0 610.4L85.8 630.8L92.7 647.5L99.6 637.6L106.5 639.8L113.4 614.1L120.2 637.6M37.7 590.1L44.6 590.1L51.4 590.1L58.3 591.0L65.2 593.7L72.1 604.6L79.0 607.3L85.8 608.2L92.7 633.0L99.6 630.8L106.5 631.7L113.4 630.8L120.2 630.8M37.7 590.1L44.6 590.1L51.4 590.1L58.3 591.0L65.2 593.7L72.1 601.4L79.0 612.7L85.8 628.5L92.7 637.6L99.6 638.9L106.5 636.2L113.4 638.0L120.2 638.9M37.7 590.1L44.6 590.1L51.4 590.1L58.3 591.0L65.2 593.7L72.1 596.9L79.0 598.2L85.8 596.9L92.7 599.1L99.6 596.9L106.5 597.3L113.4 597.3L120.2 597.8" stroke="#1b9e77" stroke-width="1.1" fill="none" stroke-linejoin="round" stroke-linecap="round"/>
<path d="M37.7 590.1L44.6 590.1L51.4 590.1L58.3 591.5L65.2 597.4L72.1 600.7L79.0 600.8L85.8 598.5L92.7 604.0L99.6 598.4L106.5 594.6L113.4 598.4L120.2 590.9M37.7 590.1L44.6 590.1L51.4 590.1L58.3 591.5L65.2 597.4L72.1 599.6L79.0 600.6L85.8 594.8L92.7 603.0L99.6 595.4L106.5 598.9L113.4 593.8L120.2 591.8M37.7 590.1L44.6 590.1L51.4 590.1L58.3 591.5L65.2 594.7L72.1 600.2L79.0 596.4L85.8 596.9L92.7 599.6L99.6 595.8L106.5 597.4L113.4 594.6L120.2 593.2M37.7 590.1L44.6 590.1L51.4 590.1L58.3 591.5L65.2 597.8L72.1 599.7L79.0 596.8L85.8 594.7L92.7 598.7L99.6 596.2L106.5 599.0L113.4 596.7L120.2 590.9M37.7 590.1L44.6 590.1L51.4 590.1L58.3 591.5L65.2 592.1L72.1 600.7L79.0 602.1L85.8 594.7L92.7 600.0L99.6 598.1L106.5 596.4L113.4 599.9L120.2 592.4M37.7 590.1L44.6 590.1L51.4 590.1L58.3 591.5L65.2 597.0L72.1 599.4L79.0 598.9L85.8 594.1L92.7 602.7L99.6 595.4L106.5 600.4L113.4 595.6L120.2 594.7M37.7 590.1L44.6 590.1L51.4 590.1L58.3 591.5L65.2 595.1L72.1 600.0L79.0 596.9L85.8 570.7L92.7 599.1L99.6 598.2L106.5 597.3L113.4 596.9L120.2 597.8M37.7 590.1L44.6 590.1L51.4 590.1L58.3 591.5L65.2 595.1L72.1 599.1L79.0 598.2L85.8 581.1L92.7 600.0L99.6 598.2L106.5 597.3L113.4 596.9L120.2 593.7" stroke="#d95f02" stroke-width="1.1" fill="none" stroke-linejoin="round" stroke-linecap="round"/>
<path d="M37.7 590.1L44.6 590.1L51.4 590.1L58.3 587.6L65.2 586.8L72.1 585.7L79.0 584.6L85.8 573.6L92.7 581.7L99.6 555.7L106.5 549.1L113.4 551.8L120.2 548.2M37.7 590.1L44.6 590.1L51.4 590.1L58.3 585.8L65.2 585.9L72.1 587.7L79.0 583.3L85.8 577.4L92.7 583.3L99.6 556.1L106.5 550.6L113.4 554.4L120.2 548.9M37.7 590.1L44.6 590.1L51.4 590.1L58.3 587.7L65.2 585.9L72.1 587.0L79.0 585.6L85.8 574.8L92.7 581.7L99.6 555.3L106.5 548.6L113.4 553.4L120.2 549.6M37.7 590.1L44.6 590.1L51.4 590.1L58.3 588.3L65.2 588.9L72.1 583.6L79.0 585.3L85.8 573.8L92.7 579.3L99.6 555.0L106.5 550.0L113.4 554.5L120.2 550.3M37.7 590.1L44.6 590.1L51.4 590.1L58.3 585.6L65.2 587.5L72.1 586.8L79.0 584.3L85.8 574.0L92.7 582.6L99.6 553.3L106.5 549.1L113.4 553.7L120.2 551.6M37.7 590.1L44.6 590.1L51.4 590.1L58.3 587.8L65.2 587.8L72.1 585.6L79.0 583.8L85.8 575.2L92.7 581.1L99.6 569.8L106.5 569.3L113.4 566.6L120.2 563.4M37.7 590.1L44.6 590.1L51.4 590.1L58.3 587.8L65.2 587.8L72.1 585.6L79.0 584.7L85.8 578.8L92.7 583.3L99.6 575.6L106.5 574.3L113.4 577.4L120.2 579.3M37.7 590.1L44.6 590.1L51.4 590.1L58.3 587.8L65.2 587.8L72.1 585.6L79.0 583.8L85.8 575.2L92.7 581.1L99.6 554.8L106.5 625.8L113.4 553.0L120.2 550.3M37.7 590.1L44.6 590.1L51.4 590.1L58.3 587.8L65.2 587.8L72.1 585.6L79.0 583.8L85.8 575.2L92.7 581.1L99.6 554.8L106.5 550.3L113.4 553.0L120.2 625.8M37.7 590.1L44.6 590.1L51.4 590.1L58.3 587.8L65.2 587.8L72.1 585.6L79.0 585.6L85.8 583.3L92.7 587.8L99.6 581.1L106.5 578.8L113.4 576.5L120.2 578.8" stroke="#7570b3" stroke-width="1.1" fill="none" stroke-linejoin="round" stroke-linecap="round"/>
<path d="M37.7 590.1L44.6 587.8L51.4 587.4L58.3 550.1L65.2 554.1L72.1 554.4L79.0 551.5L85.8 540.7L92.7 550.3L99.6 541.5L106.5 546.8L113.4 548.9L120.2 543.3M37.7 590.1L44.6 587.8L51.4 587.4L58.3 556.3L65.2 551.2L72.1 553.0L79.0 554.9L85.8 539.0L92.7 545.4L99.6 549.3L106.5 538.7L113.4 543.6L120.2 541.0M37.7 590.1L44.6 587.8L51.4 587.4L58.3 552.6L65.2 559.9L72.1 549.8L79.0 547.8L85.8 540.8L92.7 547.6L99.6 549.2L106.5 540.2L113.4 547.9L120.2 542.7M37.7 590.1L44.6 587.8L51.4 587.4L58.3 555.8L65.2 556.5L72.1 552.0L79.0 547.1L85.8 542.2L92.7 549.7L99.6 542.8L106.5 546.6L113.4 546.9L120.2 541.4M37.7 590.1L44.6 587.8L51.4 587.4L58.3 557.3L65.2 551.8L72.1 555.6L79.0 548.4L85.8 545.4L92.7 542.1L99.6 546.9L106.5 538.2L113.4 547.6L120.2 547.6M37.7 590.1L44.6 587.8L51.4 587.4L58.3 552.2L65.2 560.3L72.1 551.4L79.0 555.5L85.8 547.0L92.7 549.5L99.6 544.0L106.5 544.2L113.4 544.3L120.2 542.0M37.7 590.1L44.6 587.8L51.4 587.4L58.3 554.7L65.2 591.2L72.1 551.0L79.0 550.5L85.8 543.0L92.7 546.4L99.6 546.0L106.5 544.0L113.4 544.9L120.2 543.7M37.7 590.1L44.6 587.8L51.4 587.4L58.3 555.7L65.2 557.9L72.1 590.7L79.0 551.2L85.8 542.7L92.7 546.1L99.6 546.6L106.5 544.8L113.4 545.2L120.2 544.2M37.7 590.1L44.6 587.8L51.4 587.4L58.3 553.7L65.2 556.4L72.1 550.9L79.0 594.1L85.8 544.8L92.7 548.0L99.6 547.1L106.5 544.4L113.4 545.1L120.2 542.9M37.7 590.1L44.6 587.8L51.4 587.4L58.3 555.0L65.2 557.8L72.1 552.4L79.0 551.0L85.8 591.6L92.7 547.1L99.6 545.5L106.5 541.9L113.4 546.6L120.2 544.0M37.7 590.1L44.6 587.8L51.4 587.4L58.3 555.8L65.2 555.4L72.1 550.6L79.0 551.5L85.8 545.2L92.7 590.8L99.6 545.2L106.5 541.5L113.4 545.4L120.2 545.6M37.7 590.1L44.6 587.8L51.4 587.4L58.3 556.4L65.2 555.8L72.1 550.4L79.0 550.6L85.8 545.2L92.7 546.7L99.6 592.9L106.5 544.7L113.4 545.3L120.2 543.0M37.7 590.1L44.6 587.8L51.4 587.4L58.3 554.5L65.2 557.6L72.1 553.4L79.0 552.9L85.8 544.3L92.7 546.3L99.6 545.8L106.5 591.2L113.4 546.9L120.2 544.5M37.7 590.1L44.6 587.8L51.4 587.4L58.3 554.4L65.2 557.1L72.1 551.3L79.0 553.4L85.8 542.9L92.7 546.1L99.6 547.3L106.5 544.0L113.4 590.1L120.2 546.0M37.7 590.1L44.6 587.8L51.4 587.4L58.3 586.0L65.2 585.6L72.1 584.7L79.0 583.3L85.8 581.1L92.7 546.7L99.6 516.0L106.5 515.5L113.4 516.9L120.2 516.9M37.7 590.1L44.6 587.8L51.4 587.4L58.3 554.8L65.2 556.2L72.1 551.7L79.0 551.7L85.8 543.5L92.7 546.7L99.6 516.0L106.5 549.4L113.4 516.9L120.2 529.1M37.7 590.1L44.6 587.8L51.4 587.4L58.3 587.8L65.2 672.4L72.1 672.4L79.0 551.7L85.8 543.5L92.7 546.7L99.6 545.8L106.5 543.1L113.4 545.8L120.2 544.4M37.7 590.1L44.6 587.8L51.4 587.4L58.3 586.0L65.2 583.3L72.1 581.1L79.0 581.1L85.8 585.6L92.7 581.1L99.6 583.3L106.5 590.1L113.4 594.6L120.2 599.1" stroke="#e7298a" stroke-width="1.1" fill="none" stroke-linejoin="round" stroke-linecap="round"/>
<path d="M129.2 590.1L135.6 590.1L142.1 590.1L148.5 594.3L154.9 611.7L161.3 621.2L167.7 614.8L174.2 632.2L180.6 638.8L187.0 636.5L193.4 643.9L199.8 635.0L206.3 635.5M129.2 590.1L135.6 590.1L142.1 590.1L148.5 594.5L154.9 610.9L161.3 622.9L167.7 616.3L174.2 633.3L180.6 637.6L187.0 633.1L193.4 644.2L199.8 638.7L206.3 640.0M129.2 590.1L135.6 590.1L142.1 590.1L148.5 597.4L154.9 611.9L161.3 619.5L167.7 617.0L174.2 632.1L180.6 636.8L187.0 634.0L193.4 646.2L199.8 636.0L206.3 637.3M129.2 590.1L135.6 590.1L142.1 590.1L148.5 593.8L154.9 611.6L161.3 618.8L167.7 617.6L174.2 631.3L180.6 637.8L187.0 635.5L193.4 646.2L199.8 634.9L206.3 636.9M129.2 590.1L135.6 590.1L142.1 590.1L148.5 595.1L154.9 610.9L161.3 621.3L167.7 615.0L174.2 615.0L180.6 615.0L187.0 577.4L193.4 644.3L199.8 637.6L206.3 635.3M129.2 590.1L135.6 590.1L142.1 590.1L148.5 595.1L154.9 610.9L161.3 621.3L167.7 615.0L174.2 631.7L180.6 637.6L187.0 634.4L193.4 644.3L199.8 567.5L206.3 564.8M129.2 590.1L135.6 590.1L142.1 590.1L148.5 595.1L154.9 609.1L161.3 619.5L167.7 615.0L174.2 630.8L180.6 636.2L187.0 635.3L193.4 642.1L199.8 639.8L206.3 638.9" stroke="#1b9e77" stroke-width="1.1" fill="none" stroke-linejoin="round" stroke-linecap="round"/>
<path d="M129.2 590.1L135.6 590.1L142.1 590.1L148.5 567.0L154.9 596.9L161.3 615.4L167.7 603.7L174.2 609.1L180.6 629.4L187.0 620.4L193.4 622.6L199.8 622.6L206.3 622.6M129.2 590.1L135.6 590.1L142.1 590.1L148.5 593.7L154.9 595.5L161.3 612.7L167.7 608.2L174.2 609.1L180.6 608.2L187.0 619.5L193.4 621.7L199.8 622.2L206.3 623.1M129.2 590.1L135.6 590.1L142.1 590.1L148.5 593.7L154.9 596.9L161.3 614.5L167.7 604.6L174.2 610.4L180.6 627.2L187.0 621.3L193.4 621.7L199.8 623.1L206.3 621.7M129.2 590.1L135.6 590.1L142.1 590.1L148.5 593.7L154.9 596.9L161.3 615.4L167.7 603.7L174.2 609.1L180.6 629.4L187.0 620.4L193.4 622.6L199.8 553.0L206.3 622.6M129.2 590.1L135.6 590.1L142.1 590.1L148.5 593.7L154.9 596.0L161.3 613.6L167.7 605.9L174.2 608.2L180.6 624.0L187.0 619.5L193.4 621.7L199.8 621.7L206.3 612.7" stroke="#d95f02" stroke-width="1.1" fill="none" stroke-linejoin="round" stroke-linecap="round"/>
<path d="M129.2 590.1L135.6 590.1L142.1 590.1L148.5 589.2L154.9 577.6L161.3 575.9L167.7 562.5L174.2 557.4L180.6 544.2L187.0 524.0L193.4 526.5L199.8 526.0L206.3 528.6M129.2 590.1L135.6 590.1L142.1 590.1L148.5 589.2L154.9 578.5L161.3 576.9L167.7 561.8L174.2 555.7L180.6 545.4L187.0 525.1L193.4 525.8L199.8 526.5L206.3 531.0M129.2 590.1L135.6 590.1L142.1 590.1L148.5 589.2L154.9 576.2L161.3 576.9L167.7 560.3L174.2 558.4L180.6 544.6L187.0 525.5L193.4 526.9L199.8 527.6L206.3 530.5M129.2 590.1L135.6 590.1L142.1 590.1L148.5 589.2L154.9 574.5L161.3 575.9L167.7 560.7L174.2 556.3L180.6 544.3L187.0 524.5L193.4 524.4L199.8 524.4L206.3 528.0M129.2 590.1L135.6 590.1L142.1 590.1L148.5 589.2L154.9 576.5L161.3 576.5L167.7 560.7L174.2 556.2L180.6 547.2L187.0 543.1L193.4 543.1L199.8 543.1L206.3 547.2M129.2 590.1L135.6 590.1L142.1 590.1L148.5 589.2L154.9 576.5L161.3 576.5L167.7 560.7L174.2 556.2L180.6 545.8L187.0 533.6L193.4 535.9L199.8 538.1L206.3 540.4M129.2 590.1L135.6 590.1L142.1 590.1L148.5 589.2L154.9 576.5L161.3 576.5L167.7 560.7L174.2 556.2L180.6 545.8L187.0 526.8L193.4 529.1L199.8 595.5L206.3 600.0" stroke="#7570b3" stroke-width="1.1" fill="none" stroke-linejoin="round" stroke-linecap="round"/>
<path d="M129.2 590.1L135.6 590.1L142.1 590.1L148.5 589.2L154.9 573.6L161.3 573.7L167.7 556.7L174.2 549.2L180.6 536.5L187.0 519.6L193.4 519.3L199.8 517.2L206.3 520.1M129.2 590.1L135.6 590.1L142.1 590.1L148.5 589.2L154.9 577.0L161.3 574.9L167.7 555.3L174.2 552.4L180.6 535.3L187.0 529.0L193.4 525.1L199.8 529.6L206.3 529.2M129.2 590.1L135.6 590.1L142.1 590.1L148.5 589.2L154.9 576.5L161.3 574.4L167.7 553.1L174.2 548.7L180.6 535.3L187.0 520.2L193.4 519.1L199.8 517.0L206.3 522.5M129.2 590.1L135.6 590.1L142.1 590.1L148.5 589.2L154.9 574.2L161.3 575.6L167.7 556.3L174.2 551.4L180.6 537.3L187.0 526.1L193.4 526.3L199.8 527.8L206.3 531.8M129.2 590.1L135.6 590.1L142.1 590.1L148.5 589.2L154.9 576.2L161.3 574.8L167.7 555.8L174.2 551.5L180.6 539.0L187.0 518.7L193.4 519.2L199.8 518.2L206.3 522.7M129.2 590.1L135.6 590.1L142.1 590.1L148.5 589.2L154.9 574.9L161.3 573.1L167.7 553.2L174.2 550.8L180.6 536.6L187.0 527.5L193.4 529.4L199.8 528.4L206.3 530.0M129.2 590.1L135.6 590.1L142.1 590.1L148.5 589.2L154.9 575.6L161.3 574.3L167.7 554.8L174.2 550.3L180.6 537.2L187.0 526.8L193.4 518.2L199.8 533.6L206.3 521.8M129.2 590.1L135.6 590.1L142.1 590.1L148.5 589.2L154.9 575.6L161.3 574.3L167.7 554.8L174.2 550.3L180.6 537.2L187.0 518.2L193.4 532.2L199.8 519.1L206.3 533.6M129.2 590.1L135.6 590.1L142.1 590.1L148.5 589.2L154.9 575.6L161.3 574.3L167.7 554.8L174.2 550.3L180.6 537.2L187.0 526.8L193.4 529.1L199.8 589.2L206.3 592.4" stroke="#e7298a" stroke-width="1.1" fill="none" stroke-linejoin="round" stroke-linecap="round"/>
<path d="M33.40 522.30h3.6 M33.40 544.90h3.6 M33.40 567.50h3.6 M33.40 590.10h3.6 M33.40 612.70h3.6 M33.40 635.30h3.6 M33.40 657.90h3.6 M65.20 680.60v-3.6 M154.90 680.60v-3.6 M99.60 680.60v-3.6 M187.00 680.60v-3.6" stroke="#1a1a1a" stroke-width="1.25" fill="none"/>
<rect x="33.40" y="507.90" width="176.50" height="172.70" fill="none" stroke="#111" stroke-width="1.6"/>
<line x1="125.10" y1="507.90" x2="125.10" y2="680.60" stroke="#000" stroke-width="2.4"/>
<text transform="translate(31.20 525.75) scale(1 1.05)" text-anchor="end" font-size="9.2">15</text>
<text transform="translate(31.20 548.35) scale(1 1.05)" text-anchor="end" font-size="9.2">10</text>
<text transform="translate(31.20 570.95) scale(1 1.05)" text-anchor="end" font-size="9.2">5</text>
<text transform="translate(31.20 593.55) scale(1 1.05)" text-anchor="end" font-size="9.2">0</text>
<text transform="translate(31.20 616.15) scale(1 1.05)" text-anchor="end" font-size="9.2">−5</text>
<text transform="translate(31.20 638.75) scale(1 1.05)" text-anchor="end" font-size="9.2">−10</text>
<text transform="translate(31.20 661.35) scale(1 1.05)" text-anchor="end" font-size="9.2">−15</text>
<text transform="translate(65.20 689.00) scale(1 1.05)" text-anchor="middle" font-size="9.2">2025</text>
<text transform="translate(154.90 689.00) scale(1 1.05)" text-anchor="middle" font-size="9.2">2025</text>
<text transform="translate(99.60 689.00) scale(1 1.05)" text-anchor="middle" font-size="9.2">2030</text>
<text transform="translate(187.00 689.00) scale(1 1.05)" text-anchor="middle" font-size="9.2">2030</text>
<text transform="translate(79.25 700.10)" text-anchor="middle" font-size="9.8">Year</text>
<text transform="translate(167.50 700.10)" text-anchor="middle" font-size="9.8">Year</text>
<text transform="translate(11.19 594.25) rotate(-90)" text-anchor="middle" font-size="9.75">% change in PRODUCTION, rel. 2020</text>
<text x="79.25" y="504.90" text-anchor="middle" font-size="10.5">4D</text>
<text x="167.50" y="504.90" text-anchor="middle" font-size="10.5">2D</text>
<text x="121.65" y="481.60" text-anchor="middle" font-size="10.64">Change in cobalt production due to</text>
<text x="121.65" y="493.60" text-anchor="middle" font-size="10.64">nickel demand shifter change</text>
<text x="-1.00" y="481.60" font-size="9.8">g)</text>
<text x="41.30" y="622.70" font-size="8.6">Ni DS slope</text>
<text x="41.30" y="631.80" font-size="8.6">% of hist.</text>
<line x1="41.30" y1="638.40" x2="54.20" y2="638.40" stroke="#1b9e77" stroke-width="2.7" stroke-linecap="round"/>
<text x="61.40" y="641.50" font-size="8.6">−50</text>
<line x1="41.30" y1="648.20" x2="54.20" y2="648.20" stroke="#d95f02" stroke-width="2.7" stroke-linecap="round"/>
<text x="61.40" y="651.30" font-size="8.6">−25</text>
<line x1="41.30" y1="658.00" x2="54.20" y2="658.00" stroke="#7570b3" stroke-width="2.7" stroke-linecap="round"/>
<text x="61.40" y="661.10" font-size="8.6">+50</text>
<line x1="41.30" y1="667.80" x2="54.20" y2="667.80" stroke="#e7298a" stroke-width="2.7" stroke-linecap="round"/>
<text x="61.40" y="670.90" font-size="8.6">+100</text>
<path d="M270.50 520.00H447.00 M270.50 555.30H447.00 M270.50 590.60H447.00 M270.50 625.90H447.00 M270.50 661.20H447.00 M302.30 507.90V680.60 M392.00 507.90V680.60 M336.70 507.90V680.60 M424.10 507.90V680.60" stroke="#ededed" stroke-width="0.8" fill="none"/>
<path d="M274.8 590.6L281.7 590.6L288.5 590.6L295.4 591.3L302.3 591.7L309.2 592.4L316.1 592.2L322.9 595.3L329.8 599.7L336.7 602.0L343.6 593.2L350.5 602.1L357.3 598.6M274.8 590.6L281.7 590.6L288.5 590.6L295.4 591.3L302.3 591.7L309.2 598.4L316.1 596.4L322.9 597.1L329.8 591.6L336.7 590.1L343.6 593.8L350.5 596.4L357.3 590.0M274.8 590.6L281.7 590.6L288.5 590.6L295.4 591.3L302.3 591.7L309.2 592.2L316.1 593.1L322.9 592.0L329.8 599.7L336.7 599.2L343.6 602.0L350.5 591.1L357.3 590.0M274.8 590.6L281.7 590.6L288.5 590.6L295.4 591.3L302.3 591.7L309.2 597.7L316.1 598.7L322.9 592.7L329.8 602.2L336.7 596.0L343.6 592.8L350.5 597.1L357.3 598.8M274.8 590.6L281.7 590.6L288.5 590.6L295.4 591.3L302.3 591.7L309.2 592.8L316.1 598.0L322.9 594.6L329.8 591.7L336.7 598.4L343.6 591.7L350.5 589.2L357.3 594.8M274.8 590.6L281.7 590.6L288.5 590.6L295.4 590.6L302.3 590.6L309.2 594.1L316.1 594.1L322.9 594.1L329.8 594.1L336.7 594.1L343.6 597.7L350.5 630.1L357.3 630.1" stroke="#1b9e77" stroke-width="1.1" fill="none" stroke-linejoin="round" stroke-linecap="round"/>
<path d="M274.8 590.6L281.7 590.6L288.5 590.6L295.4 590.6L302.3 590.6L309.2 596.3L316.1 591.9L322.9 597.9L329.8 601.1L336.7 599.3L343.6 591.5L350.5 586.4L357.3 587.7M274.8 590.6L281.7 590.6L288.5 590.6L295.4 590.6L302.3 590.6L309.2 595.4L316.1 594.4L322.9 596.6L329.8 586.1L336.7 594.6L343.6 588.6L350.5 598.0L357.3 593.7M274.8 590.6L281.7 590.6L288.5 590.6L295.4 590.6L302.3 590.6L309.2 592.0L316.1 591.5L322.9 595.0L329.8 593.6L336.7 597.4L343.6 583.8L350.5 591.8L357.3 587.9M274.8 590.6L281.7 590.6L288.5 590.6L295.4 590.6L302.3 590.6L309.2 596.5L316.1 597.6L322.9 597.8L329.8 587.9L336.7 591.9L343.6 599.7L350.5 585.6L357.3 592.9M274.8 590.6L281.7 590.6L288.5 590.6L295.4 590.6L302.3 590.6L309.2 595.7L316.1 596.0L322.9 597.5L329.8 590.8L336.7 597.6L343.6 597.0L350.5 585.6L357.3 590.9" stroke="#d95f02" stroke-width="1.1" fill="none" stroke-linejoin="round" stroke-linecap="round"/>
<path d="M274.8 590.6L281.7 590.6L288.5 590.6L295.4 589.5L302.3 589.5L309.2 597.4L316.1 591.7L322.9 588.3L329.8 585.0L336.7 604.2L343.6 599.3L350.5 604.3L357.3 603.1M274.8 590.6L281.7 590.6L288.5 590.6L295.4 589.5L302.3 589.5L309.2 591.9L316.1 593.2L322.9 596.1L329.8 596.4L336.7 582.1L343.6 599.0L350.5 585.4L357.3 585.3M274.8 590.6L281.7 590.6L288.5 590.6L295.4 589.5L302.3 589.5L309.2 593.6L316.1 595.3L322.9 594.8L329.8 595.5L336.7 602.6L343.6 580.8L350.5 589.3L357.3 581.9M274.8 590.6L281.7 590.6L288.5 590.6L295.4 589.5L302.3 589.5L309.2 586.1L316.1 593.2L322.9 598.8L329.8 578.5L336.7 589.2L343.6 599.3L350.5 582.9L357.3 582.5M274.8 590.6L281.7 590.6L288.5 590.6L295.4 589.5L302.3 589.5L309.2 592.8L316.1 593.9L322.9 587.1L329.8 595.9L336.7 586.4L343.6 579.2L350.5 597.2L357.3 595.4M274.8 590.6L281.7 590.6L288.5 590.6L295.4 589.5L302.3 589.5L309.2 586.2L316.1 586.5L322.9 596.8L329.8 597.8L336.7 578.6L343.6 578.8L350.5 600.1L357.3 603.5M274.8 590.6L281.7 590.6L288.5 590.6L295.4 590.6L302.3 590.6L309.2 587.1L316.1 587.1L322.9 587.1L329.8 583.5L336.7 580.0L343.6 580.0L350.5 539.4L357.3 539.4" stroke="#7570b3" stroke-width="1.1" fill="none" stroke-linejoin="round" stroke-linecap="round"/>
<path d="M274.8 590.6L281.7 590.6L288.5 590.6L295.4 589.9L302.3 589.5L309.2 587.1L316.1 586.5L322.9 581.2L329.8 579.9L336.7 574.2L343.6 597.7L350.5 582.7L357.3 582.1M274.8 590.6L281.7 590.6L288.5 590.6L295.4 589.9L302.3 589.5L309.2 577.9L316.1 584.5L322.9 587.9L329.8 578.1L336.7 567.5L343.6 592.1L350.5 584.0L357.3 584.6M274.8 590.6L281.7 590.6L288.5 590.6L295.4 589.9L302.3 589.5L309.2 577.9L316.1 591.7L322.9 584.3L329.8 572.6L336.7 565.8L343.6 592.9L350.5 577.9L357.3 597.4M274.8 590.6L281.7 590.6L288.5 590.6L295.4 589.9L302.3 589.5L309.2 587.0L316.1 577.2L322.9 582.5L329.8 568.0L336.7 565.6L343.6 597.4L350.5 569.2L357.3 568.3M274.8 590.6L281.7 590.6L288.5 590.6L295.4 589.9L302.3 589.5L309.2 586.4L316.1 577.6L322.9 582.1L329.8 564.7L336.7 572.6L343.6 590.8L350.5 591.8L357.3 590.3M274.8 590.6L281.7 590.6L288.5 590.6L295.4 589.9L302.3 589.5L309.2 590.8L316.1 586.4L322.9 589.2L329.8 573.3L336.7 570.6L343.6 570.5L350.5 588.7L357.3 597.5M274.8 590.6L281.7 590.6L288.5 590.6L295.4 590.6L302.3 557.1L309.2 583.5L316.1 587.1L322.9 580.0L329.8 576.5L336.7 573.0L343.6 576.5L350.5 573.0L357.3 569.4M274.8 590.6L281.7 590.6L288.5 590.6L295.4 583.5L302.3 580.0L309.2 583.5L316.1 577.5L322.9 576.5L329.8 574.7L336.7 527.4L343.6 573.0L350.5 576.5L357.3 580.0M274.8 590.6L281.7 590.6L288.5 590.6L295.4 585.3L302.3 581.8L309.2 580.0L316.1 578.2L322.9 576.5L329.8 573.0L336.7 569.4L343.6 573.0L350.5 514.4L357.3 576.5M274.8 590.6L281.7 590.6L288.5 590.6L295.4 587.1L302.3 583.5L309.2 587.1L316.1 617.8L322.9 587.1L329.8 558.8L336.7 565.9L343.6 569.4L350.5 573.0L357.3 553.2M274.8 590.6L281.7 590.6L288.5 590.6L295.4 587.1L302.3 583.5L309.2 588.8L316.1 608.2L322.9 588.8L329.8 576.5L336.7 565.2L343.6 628.4L350.5 569.4L357.3 573.0M274.8 590.6L281.7 590.6L288.5 590.6L295.4 587.1L302.3 585.3L309.2 583.5L316.1 580.0L322.9 580.0L329.8 576.5L336.7 569.4L343.6 573.0L350.5 580.0L357.3 671.8M274.8 590.6L281.7 590.6L288.5 590.6L295.4 587.1L302.3 585.3L309.2 583.5L316.1 580.0L322.9 580.0L329.8 573.0L336.7 570.8L343.6 564.1L350.5 608.2L357.3 622.4M274.8 590.6L281.7 590.6L288.5 590.6L295.4 587.1L302.3 585.3L309.2 583.5L316.1 580.0L322.9 580.0L329.8 573.0L336.7 564.1L343.6 570.8L350.5 622.4L357.3 611.8M274.8 590.6L281.7 590.6L288.5 590.6L295.4 587.1L302.3 585.3L309.2 583.5L316.1 578.2L322.9 578.2L329.8 569.4L336.7 565.2L343.6 565.2L350.5 565.9L357.3 569.4M274.8 590.6L281.7 590.6L288.5 590.6L295.4 587.1L302.3 585.3L309.2 583.5L316.1 580.0L322.9 580.0L329.8 571.2L336.7 569.4L343.6 569.4L350.5 571.2L357.3 573.0M274.8 590.6L281.7 590.6L288.5 590.6L295.4 590.6L302.3 588.8L309.2 587.1L316.1 585.3L322.9 583.5L329.8 580.0L336.7 570.8L343.6 569.4L350.5 583.5L357.3 615.3" stroke="#e7298a" stroke-width="1.1" fill="none" stroke-linejoin="round" stroke-linecap="round"/>
<path d="M366.3 590.6L372.7 590.6L379.2 590.6L385.6 537.3L392.0 597.3L398.4 597.7L404.8 601.2L411.3 597.7L417.7 590.6L424.1 608.2L430.5 613.5L436.9 618.8L443.4 620.6M366.3 590.6L372.7 590.6L379.2 590.6L385.6 590.6L392.0 597.3L398.4 569.4L404.8 601.5L411.3 597.7L417.7 590.6L424.1 608.2L430.5 615.3L436.9 618.8L443.4 621.7M366.3 590.6L372.7 590.6L379.2 590.6L385.6 590.6L392.0 597.1L398.4 597.5L404.8 599.3L411.3 596.5L417.7 591.5L424.1 605.5L430.5 610.9L436.9 615.0L443.4 615.9M366.3 590.6L372.7 590.6L379.2 590.6L385.6 590.6L392.0 596.5L398.4 598.9L404.8 603.2L411.3 598.9L417.7 590.9L424.1 609.8L430.5 616.8L436.9 620.7L443.4 622.8M366.3 590.6L372.7 590.6L379.2 590.6L385.6 590.6L392.0 595.5L398.4 599.3L404.8 602.1L411.3 598.2L417.7 589.6L424.1 605.3L430.5 612.6L436.9 616.2L443.4 615.4M366.3 590.6L372.7 590.6L379.2 590.6L385.6 590.6L392.0 598.0L398.4 600.0L404.8 600.7L411.3 598.0L417.7 591.3L424.1 610.7L430.5 615.1L436.9 618.7L443.4 623.9M366.3 590.6L372.7 590.6L379.2 590.6L385.6 590.6L392.0 595.9L398.4 597.7L404.8 600.5L411.3 597.7L417.7 590.6L424.1 597.7L430.5 590.6L436.9 601.2L443.4 577.2" stroke="#1b9e77" stroke-width="1.1" fill="none" stroke-linejoin="round" stroke-linecap="round"/>
<path d="M366.3 590.6L372.7 590.6L379.2 590.6L385.6 590.6L392.0 590.6L398.4 592.4L404.8 595.9L411.3 590.6L417.7 586.4L424.1 586.4L430.5 586.4L436.9 586.4L443.4 586.4M366.3 590.6L372.7 590.6L379.2 590.6L385.6 590.6L392.0 590.6L398.4 592.4L404.8 594.8L411.3 590.6L417.7 590.6L424.1 590.6L430.5 590.6L436.9 590.6L443.4 590.6" stroke="#d95f02" stroke-width="1.1" fill="none" stroke-linejoin="round" stroke-linecap="round"/>
<path d="M366.3 590.6L372.7 590.6L379.2 590.6L385.6 590.6L392.0 588.8L398.4 588.8L404.8 588.8L411.3 583.5L417.7 573.0L424.1 575.8L430.5 575.8L436.9 577.2L443.4 581.4M366.3 590.6L372.7 590.6L379.2 590.6L385.6 590.6L392.0 588.8L398.4 588.8L404.8 588.8L411.3 583.5L417.7 574.7L424.1 575.8L430.5 605.8L436.9 576.5L443.4 578.2M366.3 590.6L372.7 590.6L379.2 590.6L385.6 590.6L392.0 588.8L398.4 588.8L404.8 588.8L411.3 583.5L417.7 574.7L424.1 576.5L430.5 576.1L436.9 576.5L443.4 577.2" stroke="#7570b3" stroke-width="1.1" fill="none" stroke-linejoin="round" stroke-linecap="round"/>
<path d="M366.3 590.6L372.7 590.6L379.2 590.6L385.6 590.6L392.0 585.7L398.4 600.1L404.8 585.7L411.3 580.0L417.7 571.5L424.1 571.5L430.5 572.2L436.9 571.5L443.4 572.2M366.3 590.6L372.7 590.6L379.2 590.6L385.6 590.6L392.0 585.7L398.4 587.1L404.8 585.7L411.3 580.0L417.7 571.5L424.1 572.2L430.5 573.0L436.9 572.2L443.4 573.0M366.3 590.6L372.7 590.6L379.2 590.6L385.6 590.6L392.0 587.1L398.4 600.1L404.8 587.1L411.3 581.8L417.7 571.5L424.1 587.1L430.5 601.5L436.9 590.6L443.4 577.2M366.3 590.6L372.7 590.6L379.2 590.6L385.6 590.6L392.0 587.1L398.4 587.1L404.8 587.1L411.3 583.5L417.7 580.0L424.1 590.6L430.5 592.4L436.9 593.4L443.4 595.2" stroke="#e7298a" stroke-width="1.1" fill="none" stroke-linejoin="round" stroke-linecap="round"/>
<path d="M270.50 520.00h3.6 M270.50 555.30h3.6 M270.50 590.60h3.6 M270.50 625.90h3.6 M270.50 661.20h3.6 M302.30 680.60v-3.6 M392.00 680.60v-3.6 M336.70 680.60v-3.6 M424.10 680.60v-3.6" stroke="#1a1a1a" stroke-width="1.25" fill="none"/>
<rect x="270.50" y="507.90" width="176.50" height="172.70" fill="none" stroke="#111" stroke-width="1.6"/>
<line x1="362.20" y1="507.90" x2="362.20" y2="680.60" stroke="#000" stroke-width="2.4"/>
<text transform="translate(268.30 523.45) scale(1 1.05)" text-anchor="end" font-size="9.2">2</text>
<text transform="translate(268.30 558.75) scale(1 1.05)" text-anchor="end" font-size="9.2">1</text>
<text transform="translate(268.30 594.05) scale(1 1.05)" text-anchor="end" font-size="9.2">0</text>
<text transform="translate(268.30 629.35) scale(1 1.05)" text-anchor="end" font-size="9.2">−1</text>
<text transform="translate(268.30 664.65) scale(1 1.05)" text-anchor="end" font-size="9.2">−2</text>
<text transform="translate(302.30 689.00) scale(1 1.05)" text-anchor="middle" font-size="9.2">2025</text>
<text transform="translate(392.00 689.00) scale(1 1.05)" text-anchor="middle" font-size="9.2">2025</text>
<text transform="translate(336.70 689.00) scale(1 1.05)" text-anchor="middle" font-size="9.2">2030</text>
<text transform="translate(424.10 689.00) scale(1 1.05)" text-anchor="middle" font-size="9.2">2030</text>
<text transform="translate(316.35 700.10)" text-anchor="middle" font-size="9.8">Year</text>
<text transform="translate(404.60 700.10)" text-anchor="middle" font-size="9.8">Year</text>
<text transform="translate(253.41 594.25) rotate(-90)" text-anchor="middle" font-size="9.75">% change in PRODUCTION, rel. 2020</text>
<text x="316.35" y="504.90" text-anchor="middle" font-size="10.5">4D</text>
<text x="404.60" y="504.90" text-anchor="middle" font-size="10.5">2D</text>
<text x="358.75" y="481.60" text-anchor="middle" font-size="10.64">Change in copper production due to</text>
<text x="358.75" y="493.60" text-anchor="middle" font-size="10.64">nickel demand shifter change</text>
<text x="237.00" y="481.60" font-size="9.8">h)</text>
<text x="278.40" y="522.40" font-size="8.6">Ni DS slope</text>
<text x="278.40" y="531.50" font-size="8.6">% of hist.</text>
<line x1="278.40" y1="538.10" x2="291.30" y2="538.10" stroke="#1b9e77" stroke-width="2.7" stroke-linecap="round"/>
<text x="298.50" y="541.20" font-size="8.6">−50</text>
<line x1="278.40" y1="547.90" x2="291.30" y2="547.90" stroke="#d95f02" stroke-width="2.7" stroke-linecap="round"/>
<text x="298.50" y="551.00" font-size="8.6">−25</text>
<line x1="278.40" y1="557.70" x2="291.30" y2="557.70" stroke="#7570b3" stroke-width="2.7" stroke-linecap="round"/>
<text x="298.50" y="560.80" font-size="8.6">+50</text>
<line x1="278.40" y1="567.50" x2="291.30" y2="567.50" stroke="#e7298a" stroke-width="2.7" stroke-linecap="round"/>
<text x="298.50" y="570.60" font-size="8.6">+100</text>
<path d="M507.50 514.70H684.00 M507.50 544.70H684.00 M507.50 574.70H684.00 M507.50 604.70H684.00 M507.50 634.70H684.00 M507.50 664.70H684.00 M539.30 507.90V680.60 M629.00 507.90V680.60 M573.70 507.90V680.60 M661.10 507.90V680.60" stroke="#ededed" stroke-width="0.8" fill="none"/>
<path d="M511.8 604.7L518.7 604.7L525.5 604.7L532.4 617.6L539.3 625.7L546.2 634.2L553.1 631.6L559.9 635.5L566.8 648.8L573.7 638.1L580.6 643.6L587.5 648.6L594.3 656.2M511.8 604.7L518.7 604.7L525.5 604.7L532.4 617.6L539.3 625.7L546.2 634.8L553.1 628.8L559.9 637.3L566.8 648.8L573.7 638.9L580.6 642.6L587.5 650.7L594.3 656.5M511.8 604.7L518.7 604.7L525.5 604.7L532.4 617.6L539.3 625.7L546.2 636.5L553.1 631.0L559.9 637.8L566.8 648.5L573.7 639.6L580.6 643.5L587.5 648.5L594.3 656.5M511.8 604.7L518.7 604.7L525.5 604.7L532.4 617.6L539.3 625.7L546.2 635.8L553.1 629.1L559.9 637.8L566.8 647.8L573.7 641.1L580.6 644.8L587.5 652.4L594.3 660.7M511.8 604.7L518.7 604.7L525.5 604.7L532.4 617.6L539.3 625.7L546.2 634.5L553.1 630.9L559.9 637.2L566.8 651.5L573.7 639.0L580.6 645.2L587.5 653.2L594.3 659.4M511.8 604.7L518.7 604.7L525.5 604.7L532.4 617.6L539.3 625.7L546.2 635.3L553.1 629.2L559.9 636.6L566.8 650.6L573.7 641.2L580.6 644.6L587.5 650.7L594.3 661.6M511.8 604.7L518.7 604.7L525.5 604.7L532.4 617.6L539.3 625.7L546.2 636.2L553.1 631.9L559.9 639.0L566.8 652.3L573.7 641.8L580.6 646.5L587.5 654.6L594.3 661.9M511.8 604.7L518.7 604.7L525.5 604.7L532.4 617.6L539.3 625.7L546.2 637.4L553.1 630.4L559.9 639.9L566.8 653.0L573.7 641.6L580.6 645.6L587.5 652.4L594.3 665.2M511.8 604.7L518.7 604.7L525.5 604.7L532.4 617.6L539.3 625.7L546.2 635.6L553.1 632.4L559.9 639.9L566.8 652.8L573.7 642.9L580.6 647.6L587.5 653.9L594.3 664.4M511.8 604.7L518.7 604.7L525.5 604.7L532.4 617.6L539.3 625.7L546.2 637.6L553.1 629.3L559.9 637.7L566.8 652.5L573.7 642.8L580.6 646.6L587.5 657.2L594.3 666.2M511.8 604.7L518.7 604.7L525.5 604.7L532.4 617.6L539.3 625.7L546.2 637.7L553.1 630.3L559.9 638.5L566.8 653.2L573.7 641.1L580.6 648.7L587.5 655.0L594.3 666.9M511.8 604.7L518.7 604.7L525.5 604.7L532.4 617.6L539.3 625.7L546.2 635.9L553.1 632.4L559.9 639.8L566.8 653.1L573.7 644.7L580.6 651.0L587.5 658.4L594.3 668.0M511.8 604.7L518.7 604.7L525.5 604.7L532.4 617.6L539.3 625.7L546.2 636.7L553.1 632.4L559.9 640.8L566.8 654.2L573.7 643.2L580.6 650.3L587.5 659.7L594.3 670.0M511.8 604.7L518.7 604.7L525.5 604.7L532.4 617.6L539.3 625.7L546.2 636.5L553.1 630.9L559.9 640.9L566.8 655.6L573.7 644.3L580.6 650.3L587.5 659.4L594.3 672.3M511.8 604.7L518.7 604.7L525.5 604.7L532.4 617.6L539.3 621.8L546.2 629.9L553.1 627.2L559.9 633.2L566.8 646.7L573.7 642.2L580.6 643.7L587.5 645.2L594.3 643.1M511.8 604.7L518.7 604.7L525.5 604.7L532.4 617.6L539.3 621.8L546.2 629.9L553.1 627.2L559.9 633.2L566.8 652.7L573.7 652.1L580.6 651.5L587.5 651.2L594.3 650.9" stroke="#1b9e77" stroke-width="1.1" fill="none" stroke-linejoin="round" stroke-linecap="round"/>
<path d="M511.8 604.7L518.7 604.7L525.5 604.7L532.4 614.6L539.3 609.8L546.2 615.5L553.1 623.2L559.9 617.0L566.8 646.4L573.7 636.2L580.6 613.0L587.5 613.9L594.3 624.0M511.8 604.7L518.7 604.7L525.5 604.7L532.4 614.6L539.3 609.8L546.2 615.5L553.1 621.9L559.9 617.6L566.8 642.8L573.7 632.4L580.6 612.0L587.5 614.7L594.3 624.8M511.8 604.7L518.7 604.7L525.5 604.7L532.4 614.6L539.3 609.8L546.2 615.5L553.1 621.7L559.9 616.0L566.8 644.0L573.7 633.7L580.6 610.0L587.5 614.3L594.3 624.4M511.8 604.7L518.7 604.7L525.5 604.7L532.4 614.6L539.3 609.8L546.2 615.5L553.1 622.9L559.9 616.6L566.8 646.5L573.7 632.3L580.6 610.1L587.5 615.5L594.3 623.0M511.8 604.7L518.7 604.7L525.5 604.7L532.4 614.6L539.3 609.8L546.2 615.5L553.1 618.1L559.9 627.5L566.8 640.9L573.7 636.9L580.6 641.1L587.5 646.5L594.3 635.7M511.8 604.7L518.7 604.7L525.5 604.7L532.4 614.6L539.3 609.8L546.2 615.5L553.1 619.4L559.9 625.4L566.8 643.0L573.7 637.6L580.6 639.3L587.5 644.5L594.3 636.9M511.8 604.7L518.7 604.7L525.5 604.7L532.4 614.6L539.3 609.8L546.2 615.5L553.1 622.3L559.9 628.0L566.8 641.6L573.7 632.3L580.6 638.5L587.5 645.7L594.3 640.9M511.8 604.7L518.7 604.7L525.5 604.7L532.4 614.6L539.3 609.8L546.2 615.5L553.1 618.3L559.9 624.2L566.8 641.3L573.7 635.8L580.6 642.4L587.5 640.6L594.3 638.3M511.8 604.7L518.7 604.7L525.5 604.7L532.4 614.6L539.3 609.8L546.2 615.5L553.1 624.1L559.9 623.9L566.8 638.9L573.7 633.7L580.6 641.5L587.5 646.6L594.3 638.8M511.8 604.7L518.7 604.7L525.5 604.7L532.4 614.6L539.3 609.8L546.2 615.5L553.1 617.6L559.9 626.4L566.8 640.5L573.7 634.0L580.6 639.7L587.5 641.5L594.3 640.4M511.8 604.7L518.7 604.7L525.5 604.7L532.4 614.6L539.3 609.8L546.2 615.5L553.1 621.2L559.9 625.7L566.8 640.7L573.7 634.4L580.6 610.7L587.5 627.2L594.3 608.9M511.8 604.7L518.7 604.7L525.5 604.7L532.4 614.6L539.3 609.8L546.2 615.5L553.1 621.2L559.9 625.7L566.8 640.7L573.7 634.4L580.6 636.2L587.5 612.2L594.3 608.9" stroke="#d95f02" stroke-width="1.1" fill="none" stroke-linejoin="round" stroke-linecap="round"/>
<path d="M511.8 604.7L518.7 604.7L525.5 604.7L532.4 604.7L539.3 588.2L546.2 588.0L553.1 582.7L559.9 578.3L566.8 583.5L573.7 561.6L580.6 543.6L587.5 558.7L594.3 555.7M511.8 604.7L518.7 604.7L525.5 604.7L532.4 604.7L539.3 588.2L546.2 587.9L553.1 584.9L559.9 577.4L566.8 581.6L573.7 561.0L580.6 541.5L587.5 557.7L594.3 557.0M511.8 604.7L518.7 604.7L525.5 604.7L532.4 604.7L539.3 588.2L546.2 587.8L553.1 581.1L559.9 575.1L566.8 580.1L573.7 565.4L580.6 542.8L587.5 555.8L594.3 554.9M511.8 604.7L518.7 604.7L525.5 604.7L532.4 604.7L539.3 588.2L546.2 587.7L553.1 583.3L559.9 573.8L566.8 580.4L573.7 555.9L580.6 541.8L587.5 548.8L594.3 552.7M511.8 604.7L518.7 604.7L525.5 604.7L532.4 604.7L539.3 588.2L546.2 587.6L553.1 583.8L559.9 576.4L566.8 576.3L573.7 543.2L580.6 539.8L587.5 548.1L594.3 548.3M511.8 604.7L518.7 604.7L525.5 604.7L532.4 604.7L539.3 588.2L546.2 587.6L553.1 579.0L559.9 571.9L566.8 576.4L573.7 552.8L580.6 536.0L587.5 548.8L594.3 543.0M511.8 604.7L518.7 604.7L525.5 604.7L532.4 604.7L539.3 588.2L546.2 587.5L553.1 579.9L559.9 575.2L566.8 579.9L573.7 561.8L580.6 533.1L587.5 546.6L594.3 541.3M511.8 604.7L518.7 604.7L525.5 604.7L532.4 604.7L539.3 588.2L546.2 587.4L553.1 579.6L559.9 572.9L566.8 576.9L573.7 551.4L580.6 530.7L587.5 544.8L594.3 537.4M511.8 604.7L518.7 604.7L525.5 604.7L532.4 604.7L539.3 588.2L546.2 587.3L553.1 581.0L559.9 574.2L566.8 575.3L573.7 543.2L580.6 528.4L587.5 538.1L594.3 537.1M511.8 604.7L518.7 604.7L525.5 604.7L532.4 604.7L539.3 588.2L546.2 587.2L553.1 580.8L559.9 571.8L566.8 576.3L573.7 547.3L580.6 525.7L587.5 536.6L594.3 534.5M511.8 604.7L518.7 604.7L525.5 604.7L532.4 604.7L539.3 604.7L546.2 604.7L553.1 604.7L559.9 604.7L566.8 604.7L573.7 604.7L580.6 604.7L587.5 604.7L594.3 604.7" stroke="#7570b3" stroke-width="1.1" fill="none" stroke-linejoin="round" stroke-linecap="round"/>
<path d="M511.8 604.7L518.7 604.7L525.5 604.7L532.4 591.2L539.3 577.4L546.2 575.3L553.1 570.6L559.9 563.9L566.8 557.1L573.7 525.5L580.6 518.3L587.5 522.8L594.3 521.3M511.8 604.7L518.7 604.7L525.5 604.7L532.4 591.2L539.3 577.4L546.2 575.2L553.1 569.5L559.9 564.8L566.8 557.6L573.7 527.9L580.6 521.0L587.5 525.2L594.3 523.4M511.8 604.7L518.7 604.7L525.5 604.7L532.4 591.2L539.3 577.4L546.2 575.2L553.1 570.7L559.9 564.1L566.8 556.6L573.7 530.3L580.6 523.7L587.5 527.6L594.3 525.5M511.8 604.7L518.7 604.7L525.5 604.7L532.4 591.2L539.3 577.4L546.2 575.1L553.1 569.7L559.9 565.3L566.8 556.5L573.7 539.9L580.6 528.4L587.5 535.0L594.3 532.1M511.8 604.7L518.7 604.7L525.5 604.7L532.4 591.2L539.3 577.4L546.2 575.1L553.1 568.2L559.9 564.2L566.8 554.4L573.7 539.2L580.6 527.9L587.5 534.5L594.3 530.9M511.8 604.7L518.7 604.7L525.5 604.7L532.4 591.2L539.3 577.4L546.2 575.0L553.1 570.5L559.9 565.0L566.8 554.5L573.7 537.5L580.6 527.8L587.5 532.8L594.3 531.6M511.8 604.7L518.7 604.7L525.5 604.7L532.4 591.2L539.3 577.4L546.2 575.0L553.1 570.2L559.9 563.3L566.8 553.1L573.7 538.1L580.6 525.5L587.5 531.6L594.3 529.1M511.8 604.7L518.7 604.7L525.5 604.7L532.4 591.2L539.3 577.4L546.2 574.9L553.1 570.5L559.9 563.6L566.8 553.9L573.7 536.6L580.6 524.3L587.5 533.0L594.3 528.4M511.8 604.7L518.7 604.7L525.5 604.7L532.4 591.2L539.3 577.4L546.2 574.9L553.1 569.6L559.9 562.9L566.8 554.7L573.7 536.0L580.6 523.5L587.5 531.5L594.3 525.9M511.8 604.7L518.7 604.7L525.5 604.7L532.4 591.2L539.3 577.4L546.2 574.8L553.1 567.7L559.9 562.1L566.8 554.4L573.7 547.1L580.6 531.5L587.5 537.2L594.3 535.1M511.8 604.7L518.7 604.7L525.5 604.7L532.4 591.2L539.3 577.4L546.2 574.8L553.1 569.0L559.9 562.9L566.8 552.4L573.7 547.7L580.6 531.5L587.5 537.2L594.3 534.2M511.8 604.7L518.7 604.7L525.5 604.7L532.4 591.2L539.3 577.4L546.2 574.7L553.1 569.5L559.9 562.7L566.8 551.2L573.7 548.3L580.6 531.5L587.5 537.2L594.3 533.3M511.8 604.7L518.7 604.7L525.5 604.7L532.4 591.2L539.3 577.4L546.2 575.0L553.1 569.3L559.9 563.6L566.8 549.8L573.7 549.8L580.6 549.8L587.5 535.7L594.3 538.7" stroke="#e7298a" stroke-width="1.1" fill="none" stroke-linejoin="round" stroke-linecap="round"/>
<path d="M603.3 604.7L609.7 604.7L616.2 604.7L622.6 611.6L629.0 625.1L635.4 633.8L641.8 639.5L648.3 643.4L654.7 648.8L661.1 655.4L667.5 658.1L673.9 671.3L680.4 666.8" stroke="#1b9e77" stroke-width="1.1" fill="none" stroke-linejoin="round" stroke-linecap="round"/>
<path d="M603.3 604.7L609.7 604.7L616.2 604.7L622.6 606.8L629.0 614.6L635.4 615.2L641.8 616.4L648.3 623.3L654.7 614.0L661.1 638.3L667.5 642.5L673.9 623.9L680.4 621.5" stroke="#d95f02" stroke-width="1.1" fill="none" stroke-linejoin="round" stroke-linecap="round"/>
<path d="M603.3 604.7L609.7 604.7L616.2 604.4L622.6 593.0L629.0 582.2L635.4 577.7L641.8 573.5L648.3 567.2L654.7 556.1L661.1 550.1L667.5 540.2L673.9 536.3L680.4 532.7" stroke="#7570b3" stroke-width="1.1" fill="none" stroke-linejoin="round" stroke-linecap="round"/>
<path d="M603.3 604.7L609.7 604.7L616.2 604.4L622.6 591.8L629.0 580.7L635.4 574.7L641.8 569.6L648.3 562.4L654.7 531.5L661.1 521.6L667.5 515.3L673.9 525.8L680.4 522.2" stroke="#e7298a" stroke-width="1.1" fill="none" stroke-linejoin="round" stroke-linecap="round"/>
<path d="M507.50 514.70h3.6 M507.50 544.70h3.6 M507.50 574.70h3.6 M507.50 604.70h3.6 M507.50 634.70h3.6 M507.50 664.70h3.6 M539.30 680.60v-3.6 M629.00 680.60v-3.6 M573.70 680.60v-3.6 M661.10 680.60v-3.6" stroke="#1a1a1a" stroke-width="1.25" fill="none"/>
<rect x="507.50" y="507.90" width="176.50" height="172.70" fill="none" stroke="#111" stroke-width="1.6"/>
<line x1="599.20" y1="507.90" x2="599.20" y2="680.60" stroke="#000" stroke-width="2.4"/>
<text transform="translate(505.30 518.15) scale(1 1.05)" text-anchor="end" font-size="9.2">30</text>
<text transform="translate(505.30 548.15) scale(1 1.05)" text-anchor="end" font-size="9.2">20</text>
<text transform="translate(505.30 578.15) scale(1 1.05)" text-anchor="end" font-size="9.2">10</text>
<text transform="translate(505.30 608.15) scale(1 1.05)" text-anchor="end" font-size="9.2">0</text>
<text transform="translate(505.30 638.15) scale(1 1.05)" text-anchor="end" font-size="9.2">−10</text>
<text transform="translate(505.30 668.15) scale(1 1.05)" text-anchor="end" font-size="9.2">−20</text>
<text transform="translate(539.30 689.00) scale(1 1.05)" text-anchor="middle" font-size="9.2">2025</text>
<text transform="translate(629.00 689.00) scale(1 1.05)" text-anchor="middle" font-size="9.2">2025</text>
<text transform="translate(573.70 689.00) scale(1 1.05)" text-anchor="middle" font-size="9.2">2030</text>
<text transform="translate(661.10 689.00) scale(1 1.05)" text-anchor="middle" font-size="9.2">2030</text>
<text transform="translate(553.35 700.10)" text-anchor="middle" font-size="9.8">Year</text>
<text transform="translate(641.60 700.10)" text-anchor="middle" font-size="9.8">Year</text>
<text transform="translate(485.29 594.25) rotate(-90)" text-anchor="middle" font-size="9.75">% change in PRODUCTION, rel. 2020</text>
<text x="553.35" y="504.90" text-anchor="middle" font-size="10.5">4D</text>
<text x="641.60" y="504.90" text-anchor="middle" font-size="10.5">2D</text>
<text x="595.75" y="481.60" text-anchor="middle" font-size="10.64">Change in nickel production due to</text>
<text x="595.75" y="493.60" text-anchor="middle" font-size="10.64">nickel demand shifter change</text>
<text x="473.50" y="481.60" font-size="9.8">i)</text>
<text x="515.40" y="522.40" font-size="8.6">Ni DS slope</text>
<text x="515.40" y="531.50" font-size="8.6">% of hist.</text>
<line x1="515.40" y1="538.10" x2="528.30" y2="538.10" stroke="#1b9e77" stroke-width="2.7" stroke-linecap="round"/>
<text x="535.50" y="541.20" font-size="8.6">−50</text>
<line x1="515.40" y1="547.90" x2="528.30" y2="547.90" stroke="#d95f02" stroke-width="2.7" stroke-linecap="round"/>
<text x="535.50" y="551.00" font-size="8.6">−25</text>
<line x1="515.40" y1="557.70" x2="528.30" y2="557.70" stroke="#7570b3" stroke-width="2.7" stroke-linecap="round"/>
<text x="535.50" y="560.80" font-size="8.6">+50</text>
<line x1="515.40" y1="567.50" x2="528.30" y2="567.50" stroke="#e7298a" stroke-width="2.7" stroke-linecap="round"/>
<text x="535.50" y="570.60" font-size="8.6">+100</text>
</svg></body></html>
